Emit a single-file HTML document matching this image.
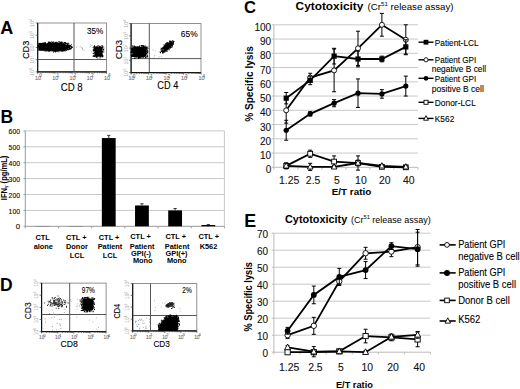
<!DOCTYPE html>
<html><head><meta charset="utf-8"><style>
html,body{margin:0;padding:0;background:#fff;overflow:hidden}
svg{display:block}
text{font-family:"Liberation Sans", sans-serif}
text[font-weight="normal"]{stroke:currentColor;stroke-width:0.1px}
</style></head><body>
<svg width="520" height="389" viewBox="0 0 520 389" font-family='"Liberation Sans", sans-serif'>
<rect width="520" height="389" fill="#fff"/>
<text x="0.30" y="34.20" font-size="18" font-weight="bold" text-anchor="start" fill="#000" color="#000" >A</text>
<text x="0.40" y="123.00" font-size="17.5" font-weight="bold" text-anchor="start" fill="#000" color="#000" >B</text>
<text x="243.90" y="12.50" font-size="16.6" font-weight="bold" text-anchor="start" fill="#000" color="#000" >C</text>
<text x="0.00" y="291.40" font-size="17.5" font-weight="bold" text-anchor="start" fill="#000" color="#000" >D</text>
<text x="244.20" y="227.00" font-size="17.8" font-weight="bold" text-anchor="start" fill="#000" color="#000" >E</text>
<rect x="37.70" y="23.00" width="68.80" height="48.90" fill="none" stroke="#777" stroke-width="0.8" />
<line x1="37.70" y1="23.00" x2="37.70" y2="72.50" stroke="#111" stroke-width="1.2" />
<line x1="37.10" y1="71.90" x2="106.50" y2="71.90" stroke="#111" stroke-width="1.2" />
<line x1="74.00" y1="23.00" x2="74.00" y2="71.90" stroke="#444" stroke-width="0.9" />
<line x1="37.70" y1="59.50" x2="106.50" y2="59.50" stroke="#444" stroke-width="0.9" />
<path d="M42.9 71.9v1.3M45.9 71.9v1.3M48.1 71.9v1.3M49.7 71.9v1.3M51.1 71.9v1.3M52.2 71.9v1.3M53.2 71.9v1.3M54.1 71.9v1.3M60.1 71.9v1.3M63.1 71.9v1.3M65.3 71.9v1.3M66.9 71.9v1.3M68.3 71.9v1.3M69.4 71.9v1.3M70.4 71.9v1.3M71.3 71.9v1.3M77.3 71.9v1.3M80.3 71.9v1.3M82.5 71.9v1.3M84.1 71.9v1.3M85.5 71.9v1.3M86.6 71.9v1.3M87.6 71.9v1.3M88.5 71.9v1.3M94.5 71.9v1.3M97.5 71.9v1.3M99.7 71.9v1.3M101.3 71.9v1.3M102.7 71.9v1.3M103.8 71.9v1.3M104.8 71.9v1.3M105.7 71.9v1.3M37.7 71.9v2M54.9 71.9v2M72.1 71.9v2M89.3 71.9v2M106.5 71.9v2" stroke="#444" stroke-width="0.7" fill="none"/>
<path d="M37.7 71.9h-2M37.7 59.7h-2M37.7 47.5h-2M37.7 35.2h-2M37.7 23.0h-2" stroke="#444" stroke-width="0.7" fill="none"/>
<text x="35.10" y="79.50" font-size="5.4" font-weight="normal" text-anchor="start" fill="#707070" color="#707070" >10</text>
<text x="39.30" y="76.90" font-size="4.59" font-weight="normal" text-anchor="start" fill="#707070" color="#707070" >0</text>
<text x="52.30" y="79.50" font-size="5.4" font-weight="normal" text-anchor="start" fill="#707070" color="#707070" >10</text>
<text x="56.50" y="76.90" font-size="4.59" font-weight="normal" text-anchor="start" fill="#707070" color="#707070" >1</text>
<text x="69.50" y="79.50" font-size="5.4" font-weight="normal" text-anchor="start" fill="#707070" color="#707070" >10</text>
<text x="73.70" y="76.90" font-size="4.59" font-weight="normal" text-anchor="start" fill="#707070" color="#707070" >2</text>
<text x="86.70" y="79.50" font-size="5.4" font-weight="normal" text-anchor="start" fill="#707070" color="#707070" >10</text>
<text x="90.90" y="76.90" font-size="4.59" font-weight="normal" text-anchor="start" fill="#707070" color="#707070" >3</text>
<text x="103.90" y="79.50" font-size="5.4" font-weight="normal" text-anchor="start" fill="#707070" color="#707070" >10</text>
<text x="108.10" y="76.90" font-size="4.59" font-weight="normal" text-anchor="start" fill="#707070" color="#707070" >4</text>
<g transform="translate(34.30,71.90) rotate(-90)"><text x="0" y="0" font-size="5.4" text-anchor="middle" fill="#a8a8a8">10<tspan font-size="3.78" dy="-2">0</tspan></text></g>
<g transform="translate(34.30,59.68) rotate(-90)"><text x="0" y="0" font-size="5.4" text-anchor="middle" fill="#a8a8a8">10<tspan font-size="3.78" dy="-2">1</tspan></text></g>
<g transform="translate(34.30,47.45) rotate(-90)"><text x="0" y="0" font-size="5.4" text-anchor="middle" fill="#a8a8a8">10<tspan font-size="3.78" dy="-2">2</tspan></text></g>
<g transform="translate(34.30,35.23) rotate(-90)"><text x="0" y="0" font-size="5.4" text-anchor="middle" fill="#a8a8a8">10<tspan font-size="3.78" dy="-2">3</tspan></text></g>
<g transform="translate(34.30,23.00) rotate(-90)"><text x="0" y="0" font-size="5.4" text-anchor="middle" fill="#a8a8a8">10<tspan font-size="3.78" dy="-2">4</tspan></text></g>
<ellipse cx="55.00" cy="46.80" rx="13.95" ry="4.09" fill="#000" transform="rotate(0.0 55.00 46.80)"/>
<path fill="#000" d="M48.6 49.7h1.0v1.0h-1.0zM47.1 43.3h1.0v1.0h-1.0zM40.6 45.4h1.0v1.0h-1.0zM68.6 47.9h1.0v1.0h-1.0zM68.7 47.3h1.0v1.0h-1.0zM66.1 47.9h1.0v1.0h-1.0zM39.6 48.5h1.0v1.0h-1.0zM64.1 49.1h1.0v1.0h-1.0zM42.4 42.6h1.0v1.0h-1.0zM41.7 44.3h1.0v1.0h-1.0zM66.9 45.8h1.0v1.0h-1.0zM63.2 43.1h1.0v1.0h-1.0zM62.5 49.3h1.0v1.0h-1.0zM48.5 50.9h1.0v1.0h-1.0zM61.0 50.4h1.0v1.0h-1.0zM45.3 43.1h1.0v1.0h-1.0zM42.4 45.2h1.0v1.0h-1.0zM67.0 47.7h1.0v1.0h-1.0zM48.3 42.4h1.0v1.0h-1.0zM48.4 50.5h1.0v1.0h-1.0zM41.2 47.5h1.0v1.0h-1.0zM58.9 41.8h1.0v1.0h-1.0zM55.1 50.8h1.0v1.0h-1.0zM37.7 45.5h1.0v1.0h-1.0zM52.7 42.3h1.0v1.0h-1.0zM67.3 45.8h1.0v1.0h-1.0zM40.2 48.7h1.0v1.0h-1.0zM63.1 49.9h1.0v1.0h-1.0zM69.9 47.4h1.0v1.0h-1.0zM55.9 41.8h1.0v1.0h-1.0zM64.4 43.4h1.0v1.0h-1.0zM49.3 42.0h1.0v1.0h-1.0zM41.6 44.2h1.0v1.0h-1.0zM63.8 42.0h1.0v1.0h-1.0zM38.8 47.1h1.0v1.0h-1.0zM69.4 48.1h1.0v1.0h-1.0zM43.9 42.2h1.0v1.0h-1.0zM60.5 42.6h1.0v1.0h-1.0zM42.5 49.4h1.0v1.0h-1.0zM69.1 46.9h1.0v1.0h-1.0zM60.9 49.6h1.0v1.0h-1.0zM69.8 48.0h1.0v1.0h-1.0zM63.9 49.2h1.0v1.0h-1.0zM41.3 49.5h1.0v1.0h-1.0zM67.4 48.4h1.0v1.0h-1.0zM38.2 44.8h1.0v1.0h-1.0zM61.7 41.8h1.0v1.0h-1.0zM51.9 50.5h1.0v1.0h-1.0zM43.7 50.2h1.0v1.0h-1.0zM67.2 45.3h1.0v1.0h-1.0zM60.6 49.9h1.0v1.0h-1.0zM56.1 50.7h1.0v1.0h-1.0zM42.9 44.2h1.0v1.0h-1.0zM69.1 46.4h1.0v1.0h-1.0zM44.0 49.6h1.0v1.0h-1.0zM69.8 44.9h1.0v1.0h-1.0zM38.9 45.9h1.0v1.0h-1.0zM48.9 43.0h1.0v1.0h-1.0zM67.8 43.4h1.0v1.0h-1.0zM66.2 42.8h1.0v1.0h-1.0zM43.2 49.0h1.0v1.0h-1.0zM67.0 49.1h1.0v1.0h-1.0zM66.2 47.7h1.0v1.0h-1.0zM57.9 50.0h1.0v1.0h-1.0zM47.8 49.4h1.0v1.0h-1.0zM67.6 46.3h1.0v1.0h-1.0zM66.0 48.8h1.0v1.0h-1.0zM71.3 47.1h1.0v1.0h-1.0zM44.6 43.8h1.0v1.0h-1.0zM54.3 50.5h1.0v1.0h-1.0zM46.0 49.2h1.0v1.0h-1.0zM64.8 42.1h1.0v1.0h-1.0zM39.9 47.2h1.0v1.0h-1.0zM65.5 48.2h1.0v1.0h-1.0zM47.0 49.7h1.0v1.0h-1.0zM60.8 42.9h1.0v1.0h-1.0zM71.8 47.0h1.0v1.0h-1.0zM41.6 45.6h1.0v1.0h-1.0zM42.5 45.3h1.0v1.0h-1.0zM37.2 45.4h1.0v1.0h-1.0zM65.0 42.7h1.0v1.0h-1.0zM53.5 50.5h1.0v1.0h-1.0zM62.7 50.5h1.0v1.0h-1.0zM38.3 45.3h1.0v1.0h-1.0zM48.0 49.8h1.0v1.0h-1.0zM61.1 41.5h1.0v1.0h-1.0zM64.5 42.4h1.0v1.0h-1.0zM61.3 42.0h1.0v1.0h-1.0zM56.7 50.7h1.0v1.0h-1.0zM46.8 49.2h1.0v1.0h-1.0zM68.1 47.0h1.0v1.0h-1.0zM53.6 51.0h1.0v1.0h-1.0zM68.7 45.1h1.0v1.0h-1.0zM70.8 44.3h1.0v1.0h-1.0zM68.2 45.1h1.0v1.0h-1.0zM57.0 50.2h1.0v1.0h-1.0zM58.9 50.0h1.0v1.0h-1.0zM42.3 42.8h1.0v1.0h-1.0zM62.5 42.6h1.0v1.0h-1.0zM45.0 42.3h1.0v1.0h-1.0zM68.2 48.7h1.0v1.0h-1.0zM68.4 43.7h1.0v1.0h-1.0zM54.5 41.9h1.0v1.0h-1.0zM61.7 50.7h1.0v1.0h-1.0zM46.3 50.5h1.0v1.0h-1.0zM68.7 45.5h1.0v1.0h-1.0zM40.3 49.3h1.0v1.0h-1.0zM52.4 42.5h1.0v1.0h-1.0zM63.7 49.1h1.0v1.0h-1.0zM68.3 43.6h1.0v1.0h-1.0zM64.7 50.2h1.0v1.0h-1.0zM70.2 45.7h1.0v1.0h-1.0zM45.5 49.9h1.0v1.0h-1.0zM62.9 49.0h1.0v1.0h-1.0zM70.0 45.5h1.0v1.0h-1.0zM37.4 45.5h1.0v1.0h-1.0zM38.9 48.3h1.0v1.0h-1.0zM60.7 42.8h1.0v1.0h-1.0zM54.3 50.4h1.0v1.0h-1.0zM55.4 50.8h1.0v1.0h-1.0zM53.6 50.6h1.0v1.0h-1.0zM66.2 50.0h1.0v1.0h-1.0zM45.5 49.7h1.0v1.0h-1.0zM39.6 43.8h1.0v1.0h-1.0zM39.3 48.7h1.0v1.0h-1.0zM39.3 46.3h1.0v1.0h-1.0zM42.2 45.8h1.0v1.0h-1.0zM42.1 47.7h1.0v1.0h-1.0zM71.1 46.4h1.0v1.0h-1.0zM61.5 50.1h1.0v1.0h-1.0zM52.1 41.9h1.0v1.0h-1.0zM47.6 50.2h1.0v1.0h-1.0zM39.0 44.6h1.0v1.0h-1.0zM66.5 49.1h1.0v1.0h-1.0zM54.6 50.3h1.0v1.0h-1.0zM56.6 41.9h1.0v1.0h-1.0zM39.3 44.5h1.0v1.0h-1.0zM67.0 44.0h1.0v1.0h-1.0zM43.1 43.4h1.0v1.0h-1.0zM38.5 45.9h1.0v1.0h-1.0zM40.0 47.6h1.0v1.0h-1.0zM37.3 47.0h1.0v1.0h-1.0zM49.2 41.6h1.0v1.0h-1.0zM67.3 44.9h1.0v1.0h-1.0zM38.3 44.4h1.0v1.0h-1.0zM61.5 43.1h1.0v1.0h-1.0zM65.1 49.3h1.0v1.0h-1.0zM66.7 48.1h1.0v1.0h-1.0zM68.8 48.4h1.0v1.0h-1.0zM58.1 41.4h1.0v1.0h-1.0zM63.6 50.2h1.0v1.0h-1.0zM47.5 43.1h1.0v1.0h-1.0zM67.5 42.8h1.0v1.0h-1.0zM57.8 51.3h1.0v1.0h-1.0zM42.5 48.9h1.0v1.0h-1.0zM71.3 46.0h1.0v1.0h-1.0zM62.2 49.9h1.0v1.0h-1.0zM40.4 45.9h1.0v1.0h-1.0zM59.2 50.2h1.0v1.0h-1.0zM52.3 42.7h1.0v1.0h-1.0zM40.7 44.9h1.0v1.0h-1.0zM68.5 46.8h1.0v1.0h-1.0zM43.8 43.2h1.0v1.0h-1.0zM70.7 48.3h1.0v1.0h-1.0zM58.7 41.3h1.0v1.0h-1.0zM65.4 48.8h1.0v1.0h-1.0zM70.5 47.5h1.0v1.0h-1.0zM52.8 50.1h1.0v1.0h-1.0zM39.3 48.7h1.0v1.0h-1.0zM60.3 42.7h1.0v1.0h-1.0zM64.7 50.4h1.0v1.0h-1.0zM40.0 44.3h1.0v1.0h-1.0zM65.2 48.3h1.0v1.0h-1.0zM49.0 42.3h1.0v1.0h-1.0zM70.1 48.5h1.0v1.0h-1.0zM43.5 42.7h1.0v1.0h-1.0zM69.1 48.8h1.0v1.0h-1.0zM70.0 48.3h1.0v1.0h-1.0zM41.0 47.5h1.0v1.0h-1.0zM38.1 44.6h1.0v1.0h-1.0zM53.0 50.1h1.0v1.0h-1.0zM41.1 45.6h1.0v1.0h-1.0zM64.7 48.8h1.0v1.0h-1.0zM67.2 47.5h1.0v1.0h-1.0zM49.2 50.1h1.0v1.0h-1.0zM55.3 42.2h1.0v1.0h-1.0zM41.2 46.3h1.0v1.0h-1.0zM47.4 49.3h1.0v1.0h-1.0zM54.5 49.9h1.0v1.0h-1.0zM52.9 41.8h1.0v1.0h-1.0zM60.0 50.3h1.0v1.0h-1.0zM66.3 44.8h1.0v1.0h-1.0zM60.6 42.4h1.0v1.0h-1.0zM37.7 46.5h1.0v1.0h-1.0zM42.7 49.0h1.0v1.0h-1.0zM47.8 41.5h1.0v1.0h-1.0zM45.3 50.4h1.0v1.0h-1.0zM50.3 41.9h1.0v1.0h-1.0zM42.8 48.6h1.0v1.0h-1.0zM66.7 47.6h1.0v1.0h-1.0zM69.2 48.4h1.0v1.0h-1.0zM54.0 50.2h1.0v1.0h-1.0zM69.0 48.8h1.0v1.0h-1.0zM65.4 42.9h1.0v1.0h-1.0zM51.8 50.2h1.0v1.0h-1.0zM50.5 50.5h1.0v1.0h-1.0zM62.6 49.9h1.0v1.0h-1.0zM53.0 51.4h1.0v1.0h-1.0zM69.5 45.5h1.0v1.0h-1.0zM55.1 51.4h1.0v1.0h-1.0zM49.3 50.2h1.0v1.0h-1.0zM68.9 46.3h1.0v1.0h-1.0zM39.7 47.0h1.0v1.0h-1.0zM59.1 50.5h1.0v1.0h-1.0zM68.2 46.4h1.0v1.0h-1.0zM66.7 48.6h1.0v1.0h-1.0zM66.5 47.2h1.0v1.0h-1.0zM50.0 50.0h1.0v1.0h-1.0zM41.5 44.0h1.0v1.0h-1.0zM54.6 41.7h1.0v1.0h-1.0zM50.9 41.4h1.0v1.0h-1.0zM43.7 48.9h1.0v1.0h-1.0zM67.5 45.9h1.0v1.0h-1.0zM51.9 41.7h1.0v1.0h-1.0zM70.7 47.6h1.0v1.0h-1.0zM66.7 43.4h1.0v1.0h-1.0zM52.8 41.4h1.0v1.0h-1.0zM64.2 49.7h1.0v1.0h-1.0zM37.7 46.2h1.0v1.0h-1.0zM60.1 41.7h1.0v1.0h-1.0zM39.7 43.8h1.0v1.0h-1.0zM47.9 42.0h1.0v1.0h-1.0zM56.1 49.9h1.0v1.0h-1.0zM64.0 49.4h1.0v1.0h-1.0zM67.8 49.3h1.0v1.0h-1.0zM39.9 44.6h1.0v1.0h-1.0zM43.3 43.0h1.0v1.0h-1.0zM42.2 46.5h1.0v1.0h-1.0zM59.3 41.7h1.0v1.0h-1.0zM39.3 46.2h1.0v1.0h-1.0z"/>
<rect x="38.3" y="42.9" width="8" height="7.8" fill="#000"/>
<rect x="94.40" y="46.60" width="8.20" height="10.20" rx="2.5" fill="#000"/>
<path fill="#000" d="M96.2 55.7h1.0v1.0h-1.0zM94.2 55.8h1.0v1.0h-1.0zM96.6 46.3h1.0v1.0h-1.0zM94.3 56.1h1.0v1.0h-1.0zM92.7 55.7h1.0v1.0h-1.0zM102.1 56.1h1.0v1.0h-1.0zM102.7 55.5h1.0v1.0h-1.0zM93.4 54.7h1.0v1.0h-1.0zM96.8 55.7h1.0v1.0h-1.0zM99.3 46.4h1.0v1.0h-1.0zM94.0 55.5h1.0v1.0h-1.0zM99.6 55.5h1.0v1.0h-1.0zM96.1 46.3h1.0v1.0h-1.0zM95.8 57.0h1.0v1.0h-1.0zM95.6 56.1h1.0v1.0h-1.0zM101.5 56.5h1.0v1.0h-1.0zM101.6 55.1h1.0v1.0h-1.0zM94.3 50.0h1.0v1.0h-1.0zM92.7 46.9h1.0v1.0h-1.0zM94.5 45.9h1.0v1.0h-1.0zM92.7 52.7h1.0v1.0h-1.0zM101.9 54.4h1.0v1.0h-1.0zM101.6 44.9h1.0v1.0h-1.0zM101.7 45.7h1.0v1.0h-1.0zM99.1 45.8h1.0v1.0h-1.0zM94.4 47.8h1.0v1.0h-1.0zM93.6 52.7h1.0v1.0h-1.0zM93.2 50.3h1.0v1.0h-1.0zM103.2 46.4h1.0v1.0h-1.0zM101.4 55.8h1.0v1.0h-1.0zM94.0 45.9h1.0v1.0h-1.0zM101.9 54.5h1.0v1.0h-1.0zM99.1 46.2h1.0v1.0h-1.0zM103.1 49.5h1.0v1.0h-1.0zM94.0 45.3h1.0v1.0h-1.0zM94.4 52.0h1.0v1.0h-1.0zM93.2 48.8h1.0v1.0h-1.0zM94.1 49.7h1.0v1.0h-1.0zM102.1 51.6h1.0v1.0h-1.0zM93.5 46.1h1.0v1.0h-1.0zM102.2 51.2h1.0v1.0h-1.0zM101.4 48.0h1.0v1.0h-1.0zM97.6 45.1h1.0v1.0h-1.0zM103.3 48.4h1.0v1.0h-1.0zM101.9 47.1h1.0v1.0h-1.0zM101.7 55.9h1.0v1.0h-1.0zM103.3 51.6h1.0v1.0h-1.0zM93.0 50.4h1.0v1.0h-1.0zM97.3 57.4h1.0v1.0h-1.0zM93.5 48.3h1.0v1.0h-1.0zM94.0 55.6h1.0v1.0h-1.0zM93.7 55.9h1.0v1.0h-1.0zM93.3 55.2h1.0v1.0h-1.0zM101.4 48.4h1.0v1.0h-1.0zM94.4 48.8h1.0v1.0h-1.0zM102.0 55.3h1.0v1.0h-1.0zM102.9 48.9h1.0v1.0h-1.0zM94.1 47.0h1.0v1.0h-1.0zM96.4 56.1h1.0v1.0h-1.0zM100.0 56.3h1.0v1.0h-1.0zM100.1 46.5h1.0v1.0h-1.0zM101.5 45.0h1.0v1.0h-1.0zM101.8 56.2h1.0v1.0h-1.0zM92.6 49.5h1.0v1.0h-1.0zM101.6 54.5h1.0v1.0h-1.0zM101.0 46.7h1.0v1.0h-1.0zM101.5 50.5h1.0v1.0h-1.0zM101.9 46.7h1.0v1.0h-1.0zM99.5 57.4h1.0v1.0h-1.0zM93.8 55.3h1.0v1.0h-1.0z"/>
<path fill="#aaa" d="M82.0 48.7h1.0v1.0h-1.0zM81.4 47.0h1.0v1.0h-1.0zM76.1 46.5h1.0v1.0h-1.0zM91.5 45.1h1.0v1.0h-1.0zM83.6 49.7h1.0v1.0h-1.0zM89.7 45.9h1.0v1.0h-1.0zM79.6 46.2h1.0v1.0h-1.0zM81.8 48.0h1.0v1.0h-1.0zM91.2 51.6h1.0v1.0h-1.0zM89.8 44.2h1.0v1.0h-1.0z"/>
<text x="86.90" y="34.20" font-size="8.6" font-weight="normal" text-anchor="start" fill="#000" color="#000" textLength="16.2" lengthAdjust="spacingAndGlyphs" >35%</text>
<g transform="translate(28.50,49.90) rotate(-90)"><text x="0" y="0" font-size="9.3" font-weight="normal" text-anchor="middle" fill="#000" textLength="18.2" lengthAdjust="spacingAndGlyphs">CD3</text></g>
<text x="60.70" y="90.50" font-size="10.6" font-weight="normal" text-anchor="start" fill="#000" color="#000" textLength="22.0" lengthAdjust="spacingAndGlyphs" >CD 8</text>
<rect x="131.10" y="23.60" width="69.90" height="49.00" fill="none" stroke="#777" stroke-width="0.8" />
<line x1="131.10" y1="23.60" x2="131.10" y2="73.20" stroke="#111" stroke-width="1.2" />
<line x1="130.50" y1="72.60" x2="201.00" y2="72.60" stroke="#111" stroke-width="1.2" />
<line x1="149.30" y1="23.60" x2="149.30" y2="72.60" stroke="#444" stroke-width="0.9" />
<line x1="131.10" y1="58.60" x2="201.00" y2="58.60" stroke="#444" stroke-width="0.9" />
<path d="M136.4 72.6v1.3M139.4 72.6v1.3M141.6 72.6v1.3M143.3 72.6v1.3M144.7 72.6v1.3M145.9 72.6v1.3M146.9 72.6v1.3M147.8 72.6v1.3M153.8 72.6v1.3M156.9 72.6v1.3M159.1 72.6v1.3M160.8 72.6v1.3M162.2 72.6v1.3M163.3 72.6v1.3M164.4 72.6v1.3M165.3 72.6v1.3M171.3 72.6v1.3M174.4 72.6v1.3M176.6 72.6v1.3M178.3 72.6v1.3M179.6 72.6v1.3M180.8 72.6v1.3M181.8 72.6v1.3M182.7 72.6v1.3M188.8 72.6v1.3M191.9 72.6v1.3M194.0 72.6v1.3M195.7 72.6v1.3M197.1 72.6v1.3M198.3 72.6v1.3M199.3 72.6v1.3M200.2 72.6v1.3M131.1 72.6v2M148.6 72.6v2M166.1 72.6v2M183.5 72.6v2M201.0 72.6v2" stroke="#444" stroke-width="0.7" fill="none"/>
<path d="M131.1 72.6h-2M131.1 60.3h-2M131.1 48.1h-2M131.1 35.9h-2M131.1 23.6h-2" stroke="#444" stroke-width="0.7" fill="none"/>
<text x="128.50" y="80.20" font-size="5.4" font-weight="normal" text-anchor="start" fill="#707070" color="#707070" >10</text>
<text x="132.70" y="77.60" font-size="4.59" font-weight="normal" text-anchor="start" fill="#707070" color="#707070" >0</text>
<text x="145.97" y="80.20" font-size="5.4" font-weight="normal" text-anchor="start" fill="#707070" color="#707070" >10</text>
<text x="150.17" y="77.60" font-size="4.59" font-weight="normal" text-anchor="start" fill="#707070" color="#707070" >1</text>
<text x="163.45" y="80.20" font-size="5.4" font-weight="normal" text-anchor="start" fill="#707070" color="#707070" >10</text>
<text x="167.65" y="77.60" font-size="4.59" font-weight="normal" text-anchor="start" fill="#707070" color="#707070" >2</text>
<text x="180.93" y="80.20" font-size="5.4" font-weight="normal" text-anchor="start" fill="#707070" color="#707070" >10</text>
<text x="185.12" y="77.60" font-size="4.59" font-weight="normal" text-anchor="start" fill="#707070" color="#707070" >3</text>
<text x="198.40" y="80.20" font-size="5.4" font-weight="normal" text-anchor="start" fill="#707070" color="#707070" >10</text>
<text x="202.60" y="77.60" font-size="4.59" font-weight="normal" text-anchor="start" fill="#707070" color="#707070" >4</text>
<g transform="translate(127.70,72.60) rotate(-90)"><text x="0" y="0" font-size="5.4" text-anchor="middle" fill="#a8a8a8">10<tspan font-size="3.78" dy="-2">0</tspan></text></g>
<g transform="translate(127.70,60.35) rotate(-90)"><text x="0" y="0" font-size="5.4" text-anchor="middle" fill="#a8a8a8">10<tspan font-size="3.78" dy="-2">1</tspan></text></g>
<g transform="translate(127.70,48.10) rotate(-90)"><text x="0" y="0" font-size="5.4" text-anchor="middle" fill="#a8a8a8">10<tspan font-size="3.78" dy="-2">2</tspan></text></g>
<g transform="translate(127.70,35.85) rotate(-90)"><text x="0" y="0" font-size="5.4" text-anchor="middle" fill="#a8a8a8">10<tspan font-size="3.78" dy="-2">3</tspan></text></g>
<g transform="translate(127.70,23.60) rotate(-90)"><text x="0" y="0" font-size="5.4" text-anchor="middle" fill="#a8a8a8">10<tspan font-size="3.78" dy="-2">4</tspan></text></g>
<rect x="132.30" y="46.80" width="14.30" height="10.40" rx="3.5" fill="#000"/>
<path fill="#000" d="M133.4 45.6h1.0v1.0h-1.0zM131.6 51.5h1.0v1.0h-1.0zM141.8 55.9h1.0v1.0h-1.0zM147.2 51.3h1.0v1.0h-1.0zM130.8 54.9h1.0v1.0h-1.0zM132.1 47.7h1.0v1.0h-1.0zM137.2 46.8h1.0v1.0h-1.0zM145.0 57.3h1.0v1.0h-1.0zM131.1 49.2h1.0v1.0h-1.0zM138.8 57.5h1.0v1.0h-1.0zM146.5 54.6h1.0v1.0h-1.0zM133.8 45.5h1.0v1.0h-1.0zM143.3 45.2h1.0v1.0h-1.0zM138.9 56.6h1.0v1.0h-1.0zM138.1 46.6h1.0v1.0h-1.0zM139.4 57.4h1.0v1.0h-1.0zM137.3 46.9h1.0v1.0h-1.0zM144.9 57.1h1.0v1.0h-1.0zM145.8 51.2h1.0v1.0h-1.0zM141.1 55.9h1.0v1.0h-1.0zM146.3 46.9h1.0v1.0h-1.0zM131.2 48.3h1.0v1.0h-1.0zM131.6 52.0h1.0v1.0h-1.0zM143.4 46.6h1.0v1.0h-1.0zM131.1 48.2h1.0v1.0h-1.0zM145.4 47.2h1.0v1.0h-1.0zM146.7 56.6h1.0v1.0h-1.0zM145.9 52.7h1.0v1.0h-1.0zM137.8 57.8h1.0v1.0h-1.0zM143.0 47.0h1.0v1.0h-1.0zM146.2 48.7h1.0v1.0h-1.0zM137.1 56.3h1.0v1.0h-1.0zM131.0 56.3h1.0v1.0h-1.0zM145.9 56.3h1.0v1.0h-1.0zM131.9 47.8h1.0v1.0h-1.0zM132.1 55.2h1.0v1.0h-1.0zM142.7 45.5h1.0v1.0h-1.0zM147.3 46.6h1.0v1.0h-1.0zM145.7 56.5h1.0v1.0h-1.0zM142.8 46.2h1.0v1.0h-1.0zM137.9 57.9h1.0v1.0h-1.0zM139.0 46.3h1.0v1.0h-1.0zM142.3 45.1h1.0v1.0h-1.0zM138.8 47.0h1.0v1.0h-1.0zM134.8 46.3h1.0v1.0h-1.0zM130.7 51.3h1.0v1.0h-1.0zM134.6 58.0h1.0v1.0h-1.0zM131.9 49.7h1.0v1.0h-1.0zM141.0 45.1h1.0v1.0h-1.0zM133.9 56.0h1.0v1.0h-1.0zM138.0 56.7h1.0v1.0h-1.0zM146.0 50.5h1.0v1.0h-1.0zM140.2 47.1h1.0v1.0h-1.0zM145.6 46.3h1.0v1.0h-1.0zM132.3 48.5h1.0v1.0h-1.0zM132.1 48.1h1.0v1.0h-1.0zM147.0 49.6h1.0v1.0h-1.0zM131.7 55.1h1.0v1.0h-1.0zM134.2 46.1h1.0v1.0h-1.0zM147.2 50.4h1.0v1.0h-1.0zM141.3 46.3h1.0v1.0h-1.0zM132.5 51.4h1.0v1.0h-1.0zM147.0 52.3h1.0v1.0h-1.0zM132.9 56.0h1.0v1.0h-1.0zM133.5 46.9h1.0v1.0h-1.0zM132.0 50.2h1.0v1.0h-1.0zM133.9 57.8h1.0v1.0h-1.0zM145.9 48.8h1.0v1.0h-1.0zM131.3 48.4h1.0v1.0h-1.0zM144.8 45.6h1.0v1.0h-1.0zM145.9 47.6h1.0v1.0h-1.0zM132.0 45.5h1.0v1.0h-1.0zM131.3 50.4h1.0v1.0h-1.0zM132.5 49.1h1.0v1.0h-1.0zM143.4 46.1h1.0v1.0h-1.0zM130.6 48.4h1.0v1.0h-1.0zM145.8 51.1h1.0v1.0h-1.0zM146.3 53.2h1.0v1.0h-1.0zM132.2 49.9h1.0v1.0h-1.0zM131.0 56.1h1.0v1.0h-1.0zM131.0 55.1h1.0v1.0h-1.0zM140.8 56.6h1.0v1.0h-1.0zM146.1 47.8h1.0v1.0h-1.0zM132.2 56.1h1.0v1.0h-1.0zM141.5 45.5h1.0v1.0h-1.0zM144.0 46.9h1.0v1.0h-1.0zM133.5 45.9h1.0v1.0h-1.0zM147.4 48.1h1.0v1.0h-1.0zM130.5 52.1h1.0v1.0h-1.0zM144.9 46.9h1.0v1.0h-1.0zM136.6 46.0h1.0v1.0h-1.0zM135.7 56.8h1.0v1.0h-1.0zM143.4 46.2h1.0v1.0h-1.0zM140.2 57.3h1.0v1.0h-1.0zM133.8 57.7h1.0v1.0h-1.0zM138.0 56.2h1.0v1.0h-1.0zM132.0 54.2h1.0v1.0h-1.0zM142.8 56.7h1.0v1.0h-1.0zM134.3 56.3h1.0v1.0h-1.0zM144.0 46.6h1.0v1.0h-1.0zM139.4 45.2h1.0v1.0h-1.0zM142.2 56.6h1.0v1.0h-1.0zM147.4 51.6h1.0v1.0h-1.0zM145.7 56.4h1.0v1.0h-1.0zM131.2 55.8h1.0v1.0h-1.0zM132.4 46.7h1.0v1.0h-1.0zM147.0 55.5h1.0v1.0h-1.0zM130.7 54.2h1.0v1.0h-1.0zM133.8 46.5h1.0v1.0h-1.0zM137.7 46.7h1.0v1.0h-1.0z"/>
<ellipse cx="167.20" cy="46.90" rx="7.07" ry="2.88" fill="#000" transform="rotate(-40.0 167.20 46.90)"/>
<path fill="#000" d="M172.3 41.0h1.0v1.0h-1.0zM170.9 41.2h1.0v1.0h-1.0zM169.1 41.5h1.0v1.0h-1.0zM168.5 49.3h1.0v1.0h-1.0zM170.8 41.8h1.0v1.0h-1.0zM160.5 49.2h1.0v1.0h-1.0zM169.7 47.7h1.0v1.0h-1.0zM171.4 45.3h1.0v1.0h-1.0zM168.6 49.0h1.0v1.0h-1.0zM162.2 47.2h1.0v1.0h-1.0zM172.3 42.0h1.0v1.0h-1.0zM162.9 46.4h1.0v1.0h-1.0zM166.4 50.0h1.0v1.0h-1.0zM166.4 42.7h1.0v1.0h-1.0zM172.0 43.3h1.0v1.0h-1.0zM163.3 51.8h1.0v1.0h-1.0zM162.2 47.5h1.0v1.0h-1.0zM171.7 45.9h1.0v1.0h-1.0zM163.2 51.4h1.0v1.0h-1.0zM166.5 51.0h1.0v1.0h-1.0zM166.3 50.6h1.0v1.0h-1.0zM164.7 51.2h1.0v1.0h-1.0zM169.4 40.5h1.0v1.0h-1.0zM164.6 50.9h1.0v1.0h-1.0zM164.2 44.9h1.0v1.0h-1.0zM173.4 40.9h1.0v1.0h-1.0zM162.0 52.5h1.0v1.0h-1.0zM162.5 52.5h1.0v1.0h-1.0zM162.2 51.1h1.0v1.0h-1.0zM172.8 41.7h1.0v1.0h-1.0zM160.7 47.8h1.0v1.0h-1.0zM173.0 43.4h1.0v1.0h-1.0zM164.1 51.5h1.0v1.0h-1.0zM171.4 45.4h1.0v1.0h-1.0zM159.7 51.6h1.0v1.0h-1.0zM172.5 44.1h1.0v1.0h-1.0zM166.8 41.9h1.0v1.0h-1.0zM170.0 47.0h1.0v1.0h-1.0zM172.3 40.1h1.0v1.0h-1.0zM162.0 50.7h1.0v1.0h-1.0zM170.8 41.2h1.0v1.0h-1.0zM170.5 40.8h1.0v1.0h-1.0zM167.4 42.6h1.0v1.0h-1.0zM166.1 43.3h1.0v1.0h-1.0zM162.6 52.4h1.0v1.0h-1.0zM167.6 42.5h1.0v1.0h-1.0zM169.7 47.7h1.0v1.0h-1.0zM160.9 50.8h1.0v1.0h-1.0zM171.8 44.7h1.0v1.0h-1.0zM163.4 44.6h1.0v1.0h-1.0zM173.0 42.2h1.0v1.0h-1.0zM165.3 44.2h1.0v1.0h-1.0zM167.9 42.4h1.0v1.0h-1.0zM160.7 49.0h1.0v1.0h-1.0zM161.6 48.0h1.0v1.0h-1.0zM162.4 52.0h1.0v1.0h-1.0zM162.2 52.1h1.0v1.0h-1.0zM162.0 51.7h1.0v1.0h-1.0zM173.0 41.7h1.0v1.0h-1.0zM161.6 51.0h1.0v1.0h-1.0zM165.1 43.3h1.0v1.0h-1.0zM162.2 51.1h1.0v1.0h-1.0zM162.1 50.9h1.0v1.0h-1.0zM172.0 44.8h1.0v1.0h-1.0zM172.5 43.7h1.0v1.0h-1.0zM161.7 50.3h1.0v1.0h-1.0zM162.2 47.6h1.0v1.0h-1.0zM163.9 44.4h1.0v1.0h-1.0zM161.7 50.3h1.0v1.0h-1.0zM161.1 51.0h1.0v1.0h-1.0zM171.0 41.7h1.0v1.0h-1.0zM169.1 40.6h1.0v1.0h-1.0zM163.8 44.4h1.0v1.0h-1.0zM171.3 47.0h1.0v1.0h-1.0zM160.0 52.2h1.0v1.0h-1.0zM170.2 41.6h1.0v1.0h-1.0zM166.1 42.4h1.0v1.0h-1.0zM172.5 43.1h1.0v1.0h-1.0zM165.2 44.2h1.0v1.0h-1.0zM169.9 41.5h1.0v1.0h-1.0z"/>
<path fill="#bbb" d="M162.6 49.3h1.0v1.0h-1.0zM158.5 56.3h1.0v1.0h-1.0zM154.7 50.4h1.0v1.0h-1.0zM158.6 50.9h1.0v1.0h-1.0zM152.5 49.6h1.0v1.0h-1.0zM154.1 56.4h1.0v1.0h-1.0zM160.8 56.1h1.0v1.0h-1.0zM154.2 55.1h1.0v1.0h-1.0z"/>
<text x="180.80" y="36.80" font-size="8.6" font-weight="normal" text-anchor="start" fill="#000" color="#000" textLength="16.8" lengthAdjust="spacingAndGlyphs" >65%</text>
<g transform="translate(122.20,49.50) rotate(-90)"><text x="0" y="0" font-size="9.3" font-weight="normal" text-anchor="middle" fill="#000" textLength="19.5" lengthAdjust="spacingAndGlyphs">CD3</text></g>
<text x="157.30" y="88.90" font-size="10.6" font-weight="normal" text-anchor="start" fill="#000" color="#000" textLength="21.0" lengthAdjust="spacingAndGlyphs" >CD 4</text>
<rect x="41.60" y="283.10" width="64.50" height="48.50" fill="none" stroke="#777" stroke-width="0.8" />
<line x1="41.60" y1="283.10" x2="41.60" y2="332.20" stroke="#111" stroke-width="1.2" />
<line x1="41.00" y1="331.60" x2="106.10" y2="331.60" stroke="#111" stroke-width="1.2" />
<line x1="69.70" y1="283.10" x2="69.70" y2="331.60" stroke="#444" stroke-width="0.9" />
<line x1="41.60" y1="314.50" x2="106.10" y2="314.50" stroke="#444" stroke-width="0.9" />
<path d="M46.5 331.6v1.3M49.3 331.6v1.3M51.3 331.6v1.3M52.9 331.6v1.3M54.1 331.6v1.3M55.2 331.6v1.3M56.2 331.6v1.3M57.0 331.6v1.3M62.6 331.6v1.3M65.4 331.6v1.3M67.4 331.6v1.3M69.0 331.6v1.3M70.3 331.6v1.3M71.4 331.6v1.3M72.3 331.6v1.3M73.1 331.6v1.3M78.7 331.6v1.3M81.5 331.6v1.3M83.6 331.6v1.3M85.1 331.6v1.3M86.4 331.6v1.3M87.5 331.6v1.3M88.4 331.6v1.3M89.2 331.6v1.3M94.8 331.6v1.3M97.7 331.6v1.3M99.7 331.6v1.3M101.2 331.6v1.3M102.5 331.6v1.3M103.6 331.6v1.3M104.5 331.6v1.3M105.4 331.6v1.3M41.6 331.6v2M57.7 331.6v2M73.8 331.6v2M90.0 331.6v2M106.1 331.6v2" stroke="#444" stroke-width="0.7" fill="none"/>
<path d="M41.6 331.6h-2M41.6 319.5h-2M41.6 307.4h-2M41.6 295.2h-2M41.6 283.1h-2" stroke="#444" stroke-width="0.7" fill="none"/>
<text x="39.00" y="339.20" font-size="4.8" font-weight="normal" text-anchor="start" fill="#707070" color="#707070" >10</text>
<text x="43.20" y="336.60" font-size="4.08" font-weight="normal" text-anchor="start" fill="#707070" color="#707070" >0</text>
<text x="55.12" y="339.20" font-size="4.8" font-weight="normal" text-anchor="start" fill="#707070" color="#707070" >10</text>
<text x="59.33" y="336.60" font-size="4.08" font-weight="normal" text-anchor="start" fill="#707070" color="#707070" >1</text>
<text x="71.25" y="339.20" font-size="4.8" font-weight="normal" text-anchor="start" fill="#707070" color="#707070" >10</text>
<text x="75.45" y="336.60" font-size="4.08" font-weight="normal" text-anchor="start" fill="#707070" color="#707070" >2</text>
<text x="87.38" y="339.20" font-size="4.8" font-weight="normal" text-anchor="start" fill="#707070" color="#707070" >10</text>
<text x="91.57" y="336.60" font-size="4.08" font-weight="normal" text-anchor="start" fill="#707070" color="#707070" >3</text>
<text x="103.50" y="339.20" font-size="4.8" font-weight="normal" text-anchor="start" fill="#707070" color="#707070" >10</text>
<text x="107.70" y="336.60" font-size="4.08" font-weight="normal" text-anchor="start" fill="#707070" color="#707070" >4</text>
<g transform="translate(38.20,331.60) rotate(-90)"><text x="0" y="0" font-size="4.8" text-anchor="middle" fill="#a8a8a8">10<tspan font-size="3.36" dy="-2">0</tspan></text></g>
<g transform="translate(38.20,319.48) rotate(-90)"><text x="0" y="0" font-size="4.8" text-anchor="middle" fill="#a8a8a8">10<tspan font-size="3.36" dy="-2">1</tspan></text></g>
<g transform="translate(38.20,307.35) rotate(-90)"><text x="0" y="0" font-size="4.8" text-anchor="middle" fill="#a8a8a8">10<tspan font-size="3.36" dy="-2">2</tspan></text></g>
<g transform="translate(38.20,295.23) rotate(-90)"><text x="0" y="0" font-size="4.8" text-anchor="middle" fill="#a8a8a8">10<tspan font-size="3.36" dy="-2">3</tspan></text></g>
<g transform="translate(38.20,283.10) rotate(-90)"><text x="0" y="0" font-size="4.8" text-anchor="middle" fill="#a8a8a8">10<tspan font-size="3.36" dy="-2">4</tspan></text></g>
<rect x="82.40" y="298.40" width="11.20" height="12.40" rx="3.2" fill="#000"/>
<path fill="#000" d="M87.3 297.6h1.0v1.0h-1.0zM86.7 310.3h1.0v1.0h-1.0zM81.6 303.9h1.0v1.0h-1.0zM89.3 311.3h1.0v1.0h-1.0zM86.8 296.7h1.0v1.0h-1.0zM87.0 310.3h1.0v1.0h-1.0zM82.1 307.4h1.0v1.0h-1.0zM81.5 298.3h1.0v1.0h-1.0zM93.8 303.7h1.0v1.0h-1.0zM92.7 307.6h1.0v1.0h-1.0zM82.5 310.0h1.0v1.0h-1.0zM82.1 306.4h1.0v1.0h-1.0zM86.5 311.5h1.0v1.0h-1.0zM89.0 310.9h1.0v1.0h-1.0zM92.4 301.5h1.0v1.0h-1.0zM83.5 298.3h1.0v1.0h-1.0zM87.6 310.4h1.0v1.0h-1.0zM92.5 311.3h1.0v1.0h-1.0zM88.1 298.2h1.0v1.0h-1.0zM85.9 309.6h1.0v1.0h-1.0zM82.0 297.9h1.0v1.0h-1.0zM86.9 297.9h1.0v1.0h-1.0zM92.5 297.5h1.0v1.0h-1.0zM88.9 310.0h1.0v1.0h-1.0zM87.3 310.5h1.0v1.0h-1.0zM88.3 296.8h1.0v1.0h-1.0zM92.7 298.2h1.0v1.0h-1.0zM86.4 297.4h1.0v1.0h-1.0zM81.1 304.0h1.0v1.0h-1.0zM92.9 305.7h1.0v1.0h-1.0zM82.4 297.4h1.0v1.0h-1.0zM90.2 310.3h1.0v1.0h-1.0zM86.2 310.4h1.0v1.0h-1.0zM81.2 300.9h1.0v1.0h-1.0zM94.1 298.4h1.0v1.0h-1.0zM84.0 297.6h1.0v1.0h-1.0zM92.8 305.9h1.0v1.0h-1.0zM84.7 297.1h1.0v1.0h-1.0zM82.5 297.6h1.0v1.0h-1.0zM82.3 300.7h1.0v1.0h-1.0zM91.3 297.5h1.0v1.0h-1.0zM92.8 310.8h1.0v1.0h-1.0zM82.3 306.7h1.0v1.0h-1.0zM93.0 301.3h1.0v1.0h-1.0zM84.2 296.9h1.0v1.0h-1.0zM81.2 308.1h1.0v1.0h-1.0zM82.2 297.0h1.0v1.0h-1.0zM81.7 309.9h1.0v1.0h-1.0zM81.8 310.1h1.0v1.0h-1.0zM92.6 298.4h1.0v1.0h-1.0zM92.9 298.5h1.0v1.0h-1.0zM93.8 302.5h1.0v1.0h-1.0zM83.9 311.2h1.0v1.0h-1.0zM83.1 310.1h1.0v1.0h-1.0zM90.6 310.4h1.0v1.0h-1.0zM81.6 307.9h1.0v1.0h-1.0zM93.6 299.2h1.0v1.0h-1.0zM82.2 299.5h1.0v1.0h-1.0zM82.6 303.6h1.0v1.0h-1.0zM92.8 299.0h1.0v1.0h-1.0zM80.8 310.0h1.0v1.0h-1.0zM82.0 309.9h1.0v1.0h-1.0zM82.0 303.6h1.0v1.0h-1.0zM94.1 298.0h1.0v1.0h-1.0zM86.9 310.9h1.0v1.0h-1.0zM85.3 311.5h1.0v1.0h-1.0zM94.0 308.9h1.0v1.0h-1.0zM83.8 311.2h1.0v1.0h-1.0zM93.8 307.3h1.0v1.0h-1.0zM89.8 310.2h1.0v1.0h-1.0zM91.9 297.4h1.0v1.0h-1.0zM85.6 296.9h1.0v1.0h-1.0zM88.7 298.6h1.0v1.0h-1.0zM86.9 296.8h1.0v1.0h-1.0zM92.7 303.0h1.0v1.0h-1.0zM83.3 298.5h1.0v1.0h-1.0zM84.0 310.8h1.0v1.0h-1.0zM83.8 311.0h1.0v1.0h-1.0zM85.0 297.5h1.0v1.0h-1.0zM93.9 303.9h1.0v1.0h-1.0zM80.9 306.4h1.0v1.0h-1.0zM85.0 297.0h1.0v1.0h-1.0zM80.8 301.9h1.0v1.0h-1.0zM87.0 298.2h1.0v1.0h-1.0zM87.2 298.6h1.0v1.0h-1.0zM81.1 305.1h1.0v1.0h-1.0zM86.8 311.2h1.0v1.0h-1.0zM86.9 310.1h1.0v1.0h-1.0zM86.6 298.4h1.0v1.0h-1.0zM82.2 309.4h1.0v1.0h-1.0z"/>
<path fill="#333" d="M80.5 300.8h1.0v1.0h-1.0zM79.6 299.3h1.0v1.0h-1.0zM80.3 303.4h1.0v1.0h-1.0zM80.6 299.9h1.0v1.0h-1.0zM82.4 301.5h1.0v1.0h-1.0zM82.1 302.6h1.0v1.0h-1.0zM79.6 300.7h1.0v1.0h-1.0zM80.8 304.0h1.0v1.0h-1.0zM80.5 303.3h1.0v1.0h-1.0zM81.1 298.9h1.0v1.0h-1.0z"/>
<path fill="#333" d="M57.8 301.2h1.0v1.0h-1.0zM57.7 300.7h1.0v1.0h-1.0zM59.6 302.0h1.0v1.0h-1.0zM57.5 295.4h1.0v1.0h-1.0zM61.8 302.1h1.0v1.0h-1.0zM48.3 302.2h1.0v1.0h-1.0zM58.6 304.6h1.0v1.0h-1.0zM51.5 305.7h1.0v1.0h-1.0zM55.8 307.7h1.0v1.0h-1.0zM55.8 303.6h1.0v1.0h-1.0zM54.8 299.3h1.0v1.0h-1.0zM61.5 304.2h1.0v1.0h-1.0zM63.6 304.1h1.0v1.0h-1.0zM53.9 298.0h1.0v1.0h-1.0zM53.5 300.4h1.0v1.0h-1.0zM52.8 303.4h1.0v1.0h-1.0zM58.0 301.4h1.0v1.0h-1.0zM57.3 301.7h1.0v1.0h-1.0zM57.5 303.8h1.0v1.0h-1.0zM60.9 300.4h1.0v1.0h-1.0zM49.6 305.4h1.0v1.0h-1.0zM57.0 304.7h1.0v1.0h-1.0zM48.9 301.2h1.0v1.0h-1.0zM56.6 298.5h1.0v1.0h-1.0zM54.1 303.7h1.0v1.0h-1.0zM61.5 305.8h1.0v1.0h-1.0zM52.5 298.6h1.0v1.0h-1.0zM58.9 304.3h1.0v1.0h-1.0zM57.4 298.9h1.0v1.0h-1.0zM60.1 303.9h1.0v1.0h-1.0zM59.0 300.8h1.0v1.0h-1.0zM57.9 303.9h1.0v1.0h-1.0zM53.9 297.6h1.0v1.0h-1.0zM58.0 303.2h1.0v1.0h-1.0zM56.6 304.1h1.0v1.0h-1.0zM53.8 301.8h1.0v1.0h-1.0zM55.1 303.4h1.0v1.0h-1.0zM63.8 301.4h1.0v1.0h-1.0zM66.0 305.7h1.0v1.0h-1.0zM60.1 303.4h1.0v1.0h-1.0zM64.6 301.6h1.0v1.0h-1.0zM56.0 299.4h1.0v1.0h-1.0zM58.7 305.2h1.0v1.0h-1.0zM58.9 303.0h1.0v1.0h-1.0zM55.6 302.4h1.0v1.0h-1.0zM49.9 304.5h1.0v1.0h-1.0zM54.6 299.3h1.0v1.0h-1.0zM53.0 300.0h1.0v1.0h-1.0zM60.4 304.5h1.0v1.0h-1.0zM50.3 304.2h1.0v1.0h-1.0zM60.6 300.6h1.0v1.0h-1.0zM49.7 300.2h1.0v1.0h-1.0zM53.6 302.8h1.0v1.0h-1.0zM54.9 297.1h1.0v1.0h-1.0zM57.6 298.3h1.0v1.0h-1.0zM60.7 299.1h1.0v1.0h-1.0zM53.3 299.9h1.0v1.0h-1.0zM54.0 305.1h1.0v1.0h-1.0zM60.4 303.4h1.0v1.0h-1.0zM58.0 298.3h1.0v1.0h-1.0zM54.1 300.7h1.0v1.0h-1.0zM52.0 303.2h1.0v1.0h-1.0zM53.1 300.3h1.0v1.0h-1.0zM51.7 297.1h1.0v1.0h-1.0zM59.2 305.2h1.0v1.0h-1.0zM57.3 299.7h1.0v1.0h-1.0zM44.1 302.4h1.0v1.0h-1.0zM62.1 302.7h1.0v1.0h-1.0zM60.8 305.5h1.0v1.0h-1.0zM61.7 300.9h1.0v1.0h-1.0zM61.3 303.9h1.0v1.0h-1.0zM49.4 301.0h1.0v1.0h-1.0zM50.0 301.7h1.0v1.0h-1.0zM59.2 299.4h1.0v1.0h-1.0zM47.0 305.1h1.0v1.0h-1.0zM58.2 305.5h1.0v1.0h-1.0zM50.4 304.5h1.0v1.0h-1.0zM66.0 306.8h1.0v1.0h-1.0zM55.5 302.6h1.0v1.0h-1.0zM55.8 304.4h1.0v1.0h-1.0zM61.3 302.2h1.0v1.0h-1.0zM50.2 303.8h1.0v1.0h-1.0zM54.3 303.5h1.0v1.0h-1.0zM57.7 305.9h1.0v1.0h-1.0zM61.7 300.9h1.0v1.0h-1.0zM58.1 306.2h1.0v1.0h-1.0zM54.0 303.0h1.0v1.0h-1.0zM62.0 305.0h1.0v1.0h-1.0zM58.9 298.8h1.0v1.0h-1.0zM50.7 302.6h1.0v1.0h-1.0zM58.3 308.1h1.0v1.0h-1.0zM52.5 304.7h1.0v1.0h-1.0zM60.0 298.0h1.0v1.0h-1.0zM52.7 302.4h1.0v1.0h-1.0zM54.2 301.6h1.0v1.0h-1.0zM58.7 300.1h1.0v1.0h-1.0zM58.6 300.5h1.0v1.0h-1.0zM54.0 303.3h1.0v1.0h-1.0zM53.9 302.7h1.0v1.0h-1.0zM63.9 302.1h1.0v1.0h-1.0zM55.8 303.8h1.0v1.0h-1.0zM54.8 304.6h1.0v1.0h-1.0zM50.6 303.5h1.0v1.0h-1.0zM54.1 300.1h1.0v1.0h-1.0zM64.6 300.0h1.0v1.0h-1.0zM64.6 303.6h1.0v1.0h-1.0zM63.2 299.7h1.0v1.0h-1.0zM62.0 305.5h1.0v1.0h-1.0zM56.0 301.7h1.0v1.0h-1.0zM67.8 302.4h1.0v1.0h-1.0zM54.6 300.5h1.0v1.0h-1.0zM58.6 302.8h1.0v1.0h-1.0zM57.3 306.1h1.0v1.0h-1.0zM55.0 303.1h1.0v1.0h-1.0zM63.2 299.6h1.0v1.0h-1.0zM61.3 306.4h1.0v1.0h-1.0zM50.3 299.4h1.0v1.0h-1.0zM51.7 297.6h1.0v1.0h-1.0zM58.6 297.5h1.0v1.0h-1.0zM58.8 305.5h1.0v1.0h-1.0zM49.1 301.2h1.0v1.0h-1.0zM47.7 303.9h1.0v1.0h-1.0zM53.1 301.4h1.0v1.0h-1.0zM56.8 303.3h1.0v1.0h-1.0zM54.9 302.0h1.0v1.0h-1.0zM54.0 302.3h1.0v1.0h-1.0zM51.1 302.2h1.0v1.0h-1.0zM47.6 300.8h1.0v1.0h-1.0zM65.3 302.2h1.0v1.0h-1.0zM50.7 302.6h1.0v1.0h-1.0z"/>
<path fill="#aaa" d="M60.0 325.2h1.0v1.0h-1.0zM53.0 312.6h1.0v1.0h-1.0zM67.1 302.3h1.0v1.0h-1.0zM59.3 319.1h1.0v1.0h-1.0zM44.7 318.3h1.0v1.0h-1.0zM60.4 327.9h1.0v1.0h-1.0zM51.9 329.5h1.0v1.0h-1.0zM56.3 314.5h1.0v1.0h-1.0zM65.5 301.0h1.0v1.0h-1.0zM61.2 318.8h1.0v1.0h-1.0zM52.1 325.9h1.0v1.0h-1.0zM52.8 314.2h1.0v1.0h-1.0zM56.6 323.1h1.0v1.0h-1.0zM49.1 313.1h1.0v1.0h-1.0zM54.1 316.6h1.0v1.0h-1.0zM63.8 308.8h1.0v1.0h-1.0zM63.9 312.1h1.0v1.0h-1.0zM56.1 308.2h1.0v1.0h-1.0zM56.2 329.2h1.0v1.0h-1.0zM59.7 323.8h1.0v1.0h-1.0zM51.9 309.5h1.0v1.0h-1.0zM51.2 317.6h1.0v1.0h-1.0zM59.2 323.5h1.0v1.0h-1.0zM45.0 321.7h1.0v1.0h-1.0z"/>
<path fill="#bbb" d="M78.9 304.7h1.0v1.0h-1.0zM70.5 300.8h1.0v1.0h-1.0zM70.1 299.0h1.0v1.0h-1.0zM79.2 305.7h1.0v1.0h-1.0zM76.6 308.6h1.0v1.0h-1.0zM79.1 305.8h1.0v1.0h-1.0zM76.2 306.0h1.0v1.0h-1.0zM77.0 305.5h1.0v1.0h-1.0zM76.8 299.4h1.0v1.0h-1.0zM76.7 303.3h1.0v1.0h-1.0z"/>
<path fill="#bbb" d="M95.9 317.4h1.0v1.0h-1.0zM76.2 316.5h1.0v1.0h-1.0zM96.3 328.8h1.0v1.0h-1.0zM92.3 321.2h1.0v1.0h-1.0zM98.0 327.0h1.0v1.0h-1.0zM89.1 319.6h1.0v1.0h-1.0z"/>
<text x="81.80" y="292.80" font-size="8.2" font-weight="normal" text-anchor="start" fill="#000" color="#000" textLength="13.0" lengthAdjust="spacingAndGlyphs" stroke="#000" stroke-width="0.12">97%</text>
<g transform="translate(30.90,310.80) rotate(-90)"><text x="0" y="0" font-size="9.2" font-weight="normal" text-anchor="middle" fill="#000" textLength="17.0" lengthAdjust="spacingAndGlyphs">CD3</text></g>
<text x="60.50" y="346.70" font-size="8.7" font-weight="normal" text-anchor="start" fill="#000" color="#000" textLength="17.3" lengthAdjust="spacingAndGlyphs" >CD8</text>
<rect x="132.70" y="283.60" width="64.10" height="47.30" fill="none" stroke="#777" stroke-width="0.8" />
<line x1="132.70" y1="283.60" x2="132.70" y2="331.50" stroke="#111" stroke-width="1.2" />
<line x1="132.10" y1="330.90" x2="196.80" y2="330.90" stroke="#111" stroke-width="1.2" />
<line x1="150.50" y1="283.60" x2="150.50" y2="330.90" stroke="#444" stroke-width="0.9" />
<line x1="132.70" y1="315.50" x2="196.80" y2="315.50" stroke="#444" stroke-width="0.9" />
<path d="M137.5 330.9v1.3M140.3 330.9v1.3M142.3 330.9v1.3M143.9 330.9v1.3M145.2 330.9v1.3M146.2 330.9v1.3M147.2 330.9v1.3M148.0 330.9v1.3M153.5 330.9v1.3M156.4 330.9v1.3M158.4 330.9v1.3M159.9 330.9v1.3M161.2 330.9v1.3M162.3 330.9v1.3M163.2 330.9v1.3M164.0 330.9v1.3M169.6 330.9v1.3M172.4 330.9v1.3M174.4 330.9v1.3M176.0 330.9v1.3M177.2 330.9v1.3M178.3 330.9v1.3M179.2 330.9v1.3M180.0 330.9v1.3M185.6 330.9v1.3M188.4 330.9v1.3M190.4 330.9v1.3M192.0 330.9v1.3M193.2 330.9v1.3M194.3 330.9v1.3M195.2 330.9v1.3M196.1 330.9v1.3M132.7 330.9v2M148.7 330.9v2M164.8 330.9v2M180.8 330.9v2M196.8 330.9v2" stroke="#444" stroke-width="0.7" fill="none"/>
<path d="M132.7 330.9h-2M132.7 319.1h-2M132.7 307.2h-2M132.7 295.4h-2M132.7 283.6h-2" stroke="#444" stroke-width="0.7" fill="none"/>
<text x="130.10" y="338.50" font-size="4.8" font-weight="normal" text-anchor="start" fill="#707070" color="#707070" >10</text>
<text x="134.30" y="335.90" font-size="4.08" font-weight="normal" text-anchor="start" fill="#707070" color="#707070" >0</text>
<text x="146.12" y="338.50" font-size="4.8" font-weight="normal" text-anchor="start" fill="#707070" color="#707070" >10</text>
<text x="150.32" y="335.90" font-size="4.08" font-weight="normal" text-anchor="start" fill="#707070" color="#707070" >1</text>
<text x="162.15" y="338.50" font-size="4.8" font-weight="normal" text-anchor="start" fill="#707070" color="#707070" >10</text>
<text x="166.35" y="335.90" font-size="4.08" font-weight="normal" text-anchor="start" fill="#707070" color="#707070" >2</text>
<text x="178.18" y="338.50" font-size="4.8" font-weight="normal" text-anchor="start" fill="#707070" color="#707070" >10</text>
<text x="182.38" y="335.90" font-size="4.08" font-weight="normal" text-anchor="start" fill="#707070" color="#707070" >3</text>
<text x="194.20" y="338.50" font-size="4.8" font-weight="normal" text-anchor="start" fill="#707070" color="#707070" >10</text>
<text x="198.40" y="335.90" font-size="4.08" font-weight="normal" text-anchor="start" fill="#707070" color="#707070" >4</text>
<g transform="translate(129.30,330.90) rotate(-90)"><text x="0" y="0" font-size="4.8" text-anchor="middle" fill="#a8a8a8">10<tspan font-size="3.36" dy="-2">0</tspan></text></g>
<g transform="translate(129.30,319.07) rotate(-90)"><text x="0" y="0" font-size="4.8" text-anchor="middle" fill="#a8a8a8">10<tspan font-size="3.36" dy="-2">1</tspan></text></g>
<g transform="translate(129.30,307.25) rotate(-90)"><text x="0" y="0" font-size="4.8" text-anchor="middle" fill="#a8a8a8">10<tspan font-size="3.36" dy="-2">2</tspan></text></g>
<g transform="translate(129.30,295.43) rotate(-90)"><text x="0" y="0" font-size="4.8" text-anchor="middle" fill="#a8a8a8">10<tspan font-size="3.36" dy="-2">3</tspan></text></g>
<g transform="translate(129.30,283.60) rotate(-90)"><text x="0" y="0" font-size="4.8" text-anchor="middle" fill="#a8a8a8">10<tspan font-size="3.36" dy="-2">4</tspan></text></g>
<path d="M158.6 331 L159.6 326 Q161 321.5 165 319 Q168.5 316.6 172 316.2 Q176.5 316 177.6 319 L178.2 324 L177.6 331 Z" fill="#000"/>
<path fill="#000" d="M175.1 315.4h1.0v1.0h-1.0zM158.3 327.0h1.0v1.0h-1.0zM177.8 317.2h1.0v1.0h-1.0zM178.0 316.8h1.0v1.0h-1.0zM175.8 317.0h1.0v1.0h-1.0zM159.5 327.7h1.0v1.0h-1.0zM160.2 324.4h1.0v1.0h-1.0zM165.3 316.3h1.0v1.0h-1.0zM164.4 318.7h1.0v1.0h-1.0zM178.6 320.6h1.0v1.0h-1.0zM159.1 329.8h1.0v1.0h-1.0zM160.1 323.4h1.0v1.0h-1.0zM177.2 320.3h1.0v1.0h-1.0zM176.9 320.9h1.0v1.0h-1.0zM163.2 319.6h1.0v1.0h-1.0zM170.4 316.0h1.0v1.0h-1.0zM174.7 316.6h1.0v1.0h-1.0zM168.7 316.2h1.0v1.0h-1.0zM177.8 316.4h1.0v1.0h-1.0zM158.8 329.3h1.0v1.0h-1.0zM159.1 327.9h1.0v1.0h-1.0zM160.9 319.7h1.0v1.0h-1.0zM176.5 319.8h1.0v1.0h-1.0zM166.5 315.4h1.0v1.0h-1.0zM158.7 327.5h1.0v1.0h-1.0zM158.8 327.1h1.0v1.0h-1.0zM159.2 323.4h1.0v1.0h-1.0zM177.7 326.1h1.0v1.0h-1.0zM158.8 324.8h1.0v1.0h-1.0zM177.9 318.2h1.0v1.0h-1.0zM176.6 319.8h1.0v1.0h-1.0zM163.0 320.7h1.0v1.0h-1.0zM157.8 324.3h1.0v1.0h-1.0zM164.5 317.8h1.0v1.0h-1.0zM162.8 321.1h1.0v1.0h-1.0zM160.1 325.4h1.0v1.0h-1.0zM178.9 323.9h1.0v1.0h-1.0zM177.7 318.9h1.0v1.0h-1.0zM165.4 316.4h1.0v1.0h-1.0zM177.5 323.0h1.0v1.0h-1.0zM161.5 321.4h1.0v1.0h-1.0zM159.8 325.4h1.0v1.0h-1.0zM176.5 317.9h1.0v1.0h-1.0zM170.0 315.3h1.0v1.0h-1.0zM173.4 315.5h1.0v1.0h-1.0zM166.1 315.6h1.0v1.0h-1.0zM167.9 315.7h1.0v1.0h-1.0zM176.2 315.6h1.0v1.0h-1.0zM177.4 317.9h1.0v1.0h-1.0zM165.7 317.9h1.0v1.0h-1.0zM158.2 328.4h1.0v1.0h-1.0zM161.9 321.2h1.0v1.0h-1.0zM169.8 315.8h1.0v1.0h-1.0zM178.5 319.7h1.0v1.0h-1.0zM165.5 317.8h1.0v1.0h-1.0zM173.8 316.0h1.0v1.0h-1.0zM177.5 317.3h1.0v1.0h-1.0zM168.0 316.0h1.0v1.0h-1.0zM176.6 323.5h1.0v1.0h-1.0zM163.2 320.3h1.0v1.0h-1.0zM162.1 320.2h1.0v1.0h-1.0zM165.6 316.0h1.0v1.0h-1.0zM169.3 315.5h1.0v1.0h-1.0zM167.1 317.9h1.0v1.0h-1.0zM178.1 317.7h1.0v1.0h-1.0zM169.9 315.5h1.0v1.0h-1.0zM177.8 319.4h1.0v1.0h-1.0zM171.0 315.2h1.0v1.0h-1.0zM173.8 315.4h1.0v1.0h-1.0zM166.3 316.8h1.0v1.0h-1.0zM177.8 317.5h1.0v1.0h-1.0zM176.4 319.8h1.0v1.0h-1.0zM168.3 316.8h1.0v1.0h-1.0zM168.7 316.7h1.0v1.0h-1.0zM164.4 317.3h1.0v1.0h-1.0zM167.7 315.8h1.0v1.0h-1.0zM158.3 328.6h1.0v1.0h-1.0zM159.4 325.5h1.0v1.0h-1.0zM164.6 317.3h1.0v1.0h-1.0zM159.1 325.7h1.0v1.0h-1.0zM179.0 324.4h1.0v1.0h-1.0zM176.1 316.3h1.0v1.0h-1.0zM174.1 316.5h1.0v1.0h-1.0zM172.6 315.1h1.0v1.0h-1.0zM177.4 325.2h1.0v1.0h-1.0zM163.7 317.3h1.0v1.0h-1.0zM157.8 325.3h1.0v1.0h-1.0zM170.7 315.2h1.0v1.0h-1.0zM159.1 327.0h1.0v1.0h-1.0zM158.7 328.4h1.0v1.0h-1.0zM176.4 329.3h1.0v1.0h-1.0zM176.5 319.3h1.0v1.0h-1.0zM168.2 315.3h1.0v1.0h-1.0zM177.8 320.9h1.0v1.0h-1.0zM173.3 315.2h1.0v1.0h-1.0zM168.3 316.7h1.0v1.0h-1.0zM175.9 314.7h1.0v1.0h-1.0zM177.2 324.6h1.0v1.0h-1.0zM159.5 327.3h1.0v1.0h-1.0zM177.7 320.8h1.0v1.0h-1.0zM158.7 322.7h1.0v1.0h-1.0zM176.2 316.0h1.0v1.0h-1.0zM170.6 315.0h1.0v1.0h-1.0zM177.8 319.3h1.0v1.0h-1.0zM176.0 317.3h1.0v1.0h-1.0zM178.7 321.0h1.0v1.0h-1.0zM170.6 315.7h1.0v1.0h-1.0zM177.1 320.0h1.0v1.0h-1.0zM175.7 316.7h1.0v1.0h-1.0zM175.9 317.1h1.0v1.0h-1.0zM175.9 316.1h1.0v1.0h-1.0zM168.4 316.3h1.0v1.0h-1.0zM158.5 329.2h1.0v1.0h-1.0zM177.5 327.5h1.0v1.0h-1.0zM177.3 328.4h1.0v1.0h-1.0zM174.5 316.4h1.0v1.0h-1.0zM176.4 316.4h1.0v1.0h-1.0zM167.7 316.2h1.0v1.0h-1.0zM173.8 316.4h1.0v1.0h-1.0zM174.9 315.5h1.0v1.0h-1.0zM169.4 314.5h1.0v1.0h-1.0zM177.0 316.5h1.0v1.0h-1.0zM166.8 317.2h1.0v1.0h-1.0zM159.8 327.8h1.0v1.0h-1.0zM177.4 322.5h1.0v1.0h-1.0zM158.1 329.1h1.0v1.0h-1.0zM176.7 327.5h1.0v1.0h-1.0zM160.7 321.6h1.0v1.0h-1.0zM164.1 318.4h1.0v1.0h-1.0zM158.1 326.8h1.0v1.0h-1.0zM166.3 317.9h1.0v1.0h-1.0zM159.7 324.1h1.0v1.0h-1.0zM177.9 317.2h1.0v1.0h-1.0zM165.9 317.5h1.0v1.0h-1.0zM158.0 326.1h1.0v1.0h-1.0zM176.8 322.7h1.0v1.0h-1.0zM166.0 316.8h1.0v1.0h-1.0zM165.4 318.3h1.0v1.0h-1.0zM169.5 316.1h1.0v1.0h-1.0zM174.2 316.3h1.0v1.0h-1.0zM174.1 315.5h1.0v1.0h-1.0zM176.6 315.9h1.0v1.0h-1.0zM161.7 320.2h1.0v1.0h-1.0zM178.3 321.1h1.0v1.0h-1.0zM167.1 315.6h1.0v1.0h-1.0zM176.9 320.8h1.0v1.0h-1.0zM170.0 314.6h1.0v1.0h-1.0zM176.2 316.3h1.0v1.0h-1.0zM178.7 323.3h1.0v1.0h-1.0zM158.4 327.3h1.0v1.0h-1.0z"/>
<ellipse cx="169.6" cy="304.8" rx="4.4" ry="2.0" fill="#111" transform="rotate(-22 169.6 304.8)"/>
<path fill="#333" d="M168.8 305.2h1.0v1.0h-1.0zM171.8 307.4h1.0v1.0h-1.0zM167.9 306.8h1.0v1.0h-1.0zM172.2 306.0h1.0v1.0h-1.0zM167.6 306.2h1.0v1.0h-1.0zM169.3 305.3h1.0v1.0h-1.0zM168.9 305.8h1.0v1.0h-1.0zM172.5 306.5h1.0v1.0h-1.0zM169.1 306.3h1.0v1.0h-1.0zM173.4 303.4h1.0v1.0h-1.0zM173.4 302.8h1.0v1.0h-1.0zM171.0 305.7h1.0v1.0h-1.0zM173.5 305.2h1.0v1.0h-1.0zM168.4 303.6h1.0v1.0h-1.0zM166.3 305.9h1.0v1.0h-1.0zM169.0 303.7h1.0v1.0h-1.0zM171.0 303.7h1.0v1.0h-1.0zM168.5 304.1h1.0v1.0h-1.0zM173.9 307.0h1.0v1.0h-1.0zM169.2 302.4h1.0v1.0h-1.0zM170.3 304.9h1.0v1.0h-1.0zM170.5 305.6h1.0v1.0h-1.0zM168.8 306.2h1.0v1.0h-1.0zM171.8 305.1h1.0v1.0h-1.0zM168.5 304.1h1.0v1.0h-1.0zM171.4 303.2h1.0v1.0h-1.0zM169.2 303.7h1.0v1.0h-1.0zM166.0 305.7h1.0v1.0h-1.0zM169.5 304.9h1.0v1.0h-1.0zM171.9 302.6h1.0v1.0h-1.0zM169.4 305.2h1.0v1.0h-1.0zM171.8 303.2h1.0v1.0h-1.0zM171.5 305.1h1.0v1.0h-1.0zM173.1 306.5h1.0v1.0h-1.0zM171.0 308.0h1.0v1.0h-1.0zM169.6 304.2h1.0v1.0h-1.0zM168.7 303.4h1.0v1.0h-1.0zM169.5 302.0h1.0v1.0h-1.0zM169.4 305.4h1.0v1.0h-1.0zM172.2 304.3h1.0v1.0h-1.0zM173.2 303.8h1.0v1.0h-1.0zM169.3 302.0h1.0v1.0h-1.0zM167.6 303.6h1.0v1.0h-1.0zM173.4 305.6h1.0v1.0h-1.0zM166.8 305.6h1.0v1.0h-1.0z"/>
<path fill="#aaa" d="M148.9 318.7h1.0v1.0h-1.0zM146.2 317.6h1.0v1.0h-1.0zM145.2 327.5h1.0v1.0h-1.0zM138.2 324.1h1.0v1.0h-1.0zM149.5 325.3h1.0v1.0h-1.0zM142.7 320.2h1.0v1.0h-1.0zM135.0 321.7h1.0v1.0h-1.0zM140.6 319.6h1.0v1.0h-1.0zM139.0 318.8h1.0v1.0h-1.0zM145.3 325.7h1.0v1.0h-1.0zM137.8 320.1h1.0v1.0h-1.0zM142.2 322.8h1.0v1.0h-1.0zM149.0 321.6h1.0v1.0h-1.0zM138.8 328.5h1.0v1.0h-1.0zM136.3 324.3h1.0v1.0h-1.0zM139.3 327.6h1.0v1.0h-1.0zM142.8 326.9h1.0v1.0h-1.0zM136.7 325.7h1.0v1.0h-1.0zM143.6 323.0h1.0v1.0h-1.0zM146.3 327.8h1.0v1.0h-1.0zM135.8 320.8h1.0v1.0h-1.0zM139.8 319.7h1.0v1.0h-1.0zM135.0 320.7h1.0v1.0h-1.0zM137.2 326.1h1.0v1.0h-1.0zM141.2 318.5h1.0v1.0h-1.0z"/>
<path fill="#bbb" d="M161.1 306.6h1.0v1.0h-1.0zM162.2 302.4h1.0v1.0h-1.0zM154.0 300.2h1.0v1.0h-1.0zM179.8 310.5h1.0v1.0h-1.0zM154.4 310.0h1.0v1.0h-1.0zM179.4 307.9h1.0v1.0h-1.0zM155.0 306.8h1.0v1.0h-1.0zM164.2 302.7h1.0v1.0h-1.0z"/>
<text x="182.30" y="292.80" font-size="8.2" font-weight="normal" text-anchor="start" fill="#000" color="#000" textLength="9.4" lengthAdjust="spacingAndGlyphs" stroke="#000" stroke-width="0.12">2%</text>
<g transform="translate(120.00,311.20) rotate(-90)"><text x="0" y="0" font-size="9.4" font-weight="normal" text-anchor="middle" fill="#000" textLength="14.8" lengthAdjust="spacingAndGlyphs">CD4</text></g>
<text x="153.40" y="346.70" font-size="8.7" font-weight="normal" text-anchor="start" fill="#000" color="#000" textLength="16.4" lengthAdjust="spacingAndGlyphs" >CD3</text>
<line x1="25.30" y1="210.40" x2="224.40" y2="210.40" stroke="#c9c9c9" stroke-width="1" />
<line x1="25.30" y1="194.50" x2="224.40" y2="194.50" stroke="#c9c9c9" stroke-width="1" />
<line x1="25.30" y1="178.60" x2="224.40" y2="178.60" stroke="#c9c9c9" stroke-width="1" />
<line x1="25.30" y1="162.70" x2="224.40" y2="162.70" stroke="#c9c9c9" stroke-width="1" />
<line x1="25.30" y1="146.80" x2="224.40" y2="146.80" stroke="#c9c9c9" stroke-width="1" />
<line x1="25.30" y1="130.90" x2="224.40" y2="130.90" stroke="#c9c9c9" stroke-width="1" />
<line x1="224.40" y1="130.90" x2="224.40" y2="226.30" stroke="#c9c9c9" stroke-width="1" />
<line x1="25.30" y1="130.90" x2="25.30" y2="226.30" stroke="#999" stroke-width="1" />
<line x1="25.30" y1="226.30" x2="224.40" y2="226.30" stroke="#999" stroke-width="1" />
<line x1="23.50" y1="226.30" x2="25.30" y2="226.30" stroke="#999" stroke-width="1" />
<text x="20.00" y="229.40" font-size="7.8" font-weight="normal" text-anchor="end" fill="#000" color="#000" stroke="#000" stroke-width="0.15">0</text>
<line x1="23.50" y1="210.40" x2="25.30" y2="210.40" stroke="#999" stroke-width="1" />
<text x="20.00" y="213.50" font-size="7.8" font-weight="normal" text-anchor="end" fill="#000" color="#000" textLength="11.4" lengthAdjust="spacingAndGlyphs" stroke="#000" stroke-width="0.15">100</text>
<line x1="23.50" y1="194.50" x2="25.30" y2="194.50" stroke="#999" stroke-width="1" />
<text x="20.00" y="197.60" font-size="7.8" font-weight="normal" text-anchor="end" fill="#000" color="#000" textLength="11.4" lengthAdjust="spacingAndGlyphs" stroke="#000" stroke-width="0.15">200</text>
<line x1="23.50" y1="178.60" x2="25.30" y2="178.60" stroke="#999" stroke-width="1" />
<text x="20.00" y="181.70" font-size="7.8" font-weight="normal" text-anchor="end" fill="#000" color="#000" textLength="11.4" lengthAdjust="spacingAndGlyphs" stroke="#000" stroke-width="0.15">300</text>
<line x1="23.50" y1="162.70" x2="25.30" y2="162.70" stroke="#999" stroke-width="1" />
<text x="20.00" y="165.80" font-size="7.8" font-weight="normal" text-anchor="end" fill="#000" color="#000" textLength="11.4" lengthAdjust="spacingAndGlyphs" stroke="#000" stroke-width="0.15">400</text>
<line x1="23.50" y1="146.80" x2="25.30" y2="146.80" stroke="#999" stroke-width="1" />
<text x="20.00" y="149.90" font-size="7.8" font-weight="normal" text-anchor="end" fill="#000" color="#000" textLength="11.4" lengthAdjust="spacingAndGlyphs" stroke="#000" stroke-width="0.15">500</text>
<line x1="23.50" y1="130.90" x2="25.30" y2="130.90" stroke="#999" stroke-width="1" />
<text x="20.00" y="134.00" font-size="7.8" font-weight="normal" text-anchor="end" fill="#000" color="#000" textLength="11.4" lengthAdjust="spacingAndGlyphs" stroke="#000" stroke-width="0.15">600</text>
<line x1="25.30" y1="226.30" x2="25.30" y2="228.30" stroke="#999" stroke-width="1" />
<line x1="58.48" y1="226.30" x2="58.48" y2="228.30" stroke="#999" stroke-width="1" />
<line x1="91.67" y1="226.30" x2="91.67" y2="228.30" stroke="#999" stroke-width="1" />
<line x1="124.85" y1="226.30" x2="124.85" y2="228.30" stroke="#999" stroke-width="1" />
<line x1="158.03" y1="226.30" x2="158.03" y2="228.30" stroke="#999" stroke-width="1" />
<line x1="191.22" y1="226.30" x2="191.22" y2="228.30" stroke="#999" stroke-width="1" />
<line x1="224.40" y1="226.30" x2="224.40" y2="228.30" stroke="#999" stroke-width="1" />
<rect x="35.49" y="226.14" width="13.80" height="0.16" fill="#000" stroke="none" stroke-width="1" />
<rect x="68.67" y="226.14" width="13.80" height="0.16" fill="#000" stroke="none" stroke-width="1" />
<rect x="101.86" y="138.06" width="13.80" height="88.25" fill="#000" stroke="none" stroke-width="1" />
<line x1="108.76" y1="138.06" x2="108.76" y2="135.35" stroke="#222" stroke-width="0.9" />
<line x1="107.16" y1="135.35" x2="110.36" y2="135.35" stroke="#222" stroke-width="0.9" />
<rect x="135.04" y="205.47" width="13.80" height="20.83" fill="#000" stroke="none" stroke-width="1" />
<line x1="141.94" y1="205.47" x2="141.94" y2="203.80" stroke="#222" stroke-width="0.9" />
<line x1="140.34" y1="203.80" x2="143.54" y2="203.80" stroke="#222" stroke-width="0.9" />
<rect x="168.22" y="210.40" width="13.80" height="15.90" fill="#000" stroke="none" stroke-width="1" />
<line x1="175.12" y1="210.40" x2="175.12" y2="208.49" stroke="#222" stroke-width="0.9" />
<line x1="173.53" y1="208.49" x2="176.72" y2="208.49" stroke="#222" stroke-width="0.9" />
<rect x="201.41" y="225.03" width="13.80" height="1.27" fill="#000" stroke="none" stroke-width="1" />
<line x1="208.31" y1="225.03" x2="208.31" y2="224.55" stroke="#222" stroke-width="0.9" />
<line x1="206.71" y1="224.55" x2="209.91" y2="224.55" stroke="#222" stroke-width="0.9" />
<g transform="translate(7.00,177.90) rotate(-90)"><text x="0" y="0" font-size="8.6" font-weight="bold" text-anchor="middle" fill="#000" textLength="44.5" lengthAdjust="spacingAndGlyphs">IFN<tspan font-size="5" dy="0.5">γ</tspan><tspan dy="-0.5"> (pg/mL)</tspan></text></g>
<text x="42.60" y="239.50" font-size="7.4" font-weight="bold" text-anchor="middle" fill="#000" color="#000" >CTL</text>
<text x="43.30" y="248.80" font-size="7.4" font-weight="bold" text-anchor="middle" fill="#000" color="#000" >alone</text>
<text x="76.20" y="239.50" font-size="7.4" font-weight="bold" text-anchor="middle" fill="#000" color="#000" >CTL +</text>
<text x="76.90" y="248.80" font-size="7.4" font-weight="bold" text-anchor="middle" fill="#000" color="#000" >Donor</text>
<text x="77.00" y="257.80" font-size="7.4" font-weight="bold" text-anchor="middle" fill="#000" color="#000" >LCL</text>
<text x="109.10" y="239.50" font-size="7.4" font-weight="bold" text-anchor="middle" fill="#000" color="#000" >CTL +</text>
<text x="110.00" y="248.80" font-size="7.4" font-weight="bold" text-anchor="middle" fill="#000" color="#000" >Patient</text>
<text x="110.00" y="257.80" font-size="7.4" font-weight="bold" text-anchor="middle" fill="#000" color="#000" >LCL</text>
<text x="140.60" y="239.30" font-size="7.4" font-weight="bold" text-anchor="middle" fill="#000" color="#000" >CTL +</text>
<text x="142.10" y="248.80" font-size="7.4" font-weight="bold" text-anchor="middle" fill="#000" color="#000" >Patient</text>
<text x="141.00" y="255.80" font-size="7.4" font-weight="bold" text-anchor="middle" fill="#000" color="#000" >GPI(-)</text>
<text x="142.80" y="262.60" font-size="7.4" font-weight="bold" text-anchor="middle" fill="#000" color="#000" >Mono</text>
<text x="175.70" y="239.30" font-size="7.4" font-weight="bold" text-anchor="middle" fill="#000" color="#000" >CTL +</text>
<text x="177.10" y="248.80" font-size="7.4" font-weight="bold" text-anchor="middle" fill="#000" color="#000" >Patient</text>
<text x="176.60" y="255.80" font-size="7.4" font-weight="bold" text-anchor="middle" fill="#000" color="#000" >GPI(+)</text>
<text x="176.80" y="262.60" font-size="7.4" font-weight="bold" text-anchor="middle" fill="#000" color="#000" >Mono</text>
<text x="208.70" y="239.30" font-size="7.4" font-weight="bold" text-anchor="middle" fill="#000" color="#000" >CTL +</text>
<text x="208.50" y="248.80" font-size="7.4" font-weight="bold" text-anchor="middle" fill="#000" color="#000" >K562</text>
<line x1="273.90" y1="153.05" x2="417.90" y2="153.05" stroke="#c9c9c9" stroke-width="1" />
<line x1="273.90" y1="138.80" x2="417.90" y2="138.80" stroke="#c9c9c9" stroke-width="1" />
<line x1="273.90" y1="124.55" x2="417.90" y2="124.55" stroke="#c9c9c9" stroke-width="1" />
<line x1="273.90" y1="110.30" x2="417.90" y2="110.30" stroke="#c9c9c9" stroke-width="1" />
<line x1="273.90" y1="96.05" x2="417.90" y2="96.05" stroke="#c9c9c9" stroke-width="1" />
<line x1="273.90" y1="81.80" x2="417.90" y2="81.80" stroke="#c9c9c9" stroke-width="1" />
<line x1="273.90" y1="67.55" x2="417.90" y2="67.55" stroke="#c9c9c9" stroke-width="1" />
<line x1="273.90" y1="53.30" x2="417.90" y2="53.30" stroke="#c9c9c9" stroke-width="1" />
<line x1="273.90" y1="39.05" x2="417.90" y2="39.05" stroke="#c9c9c9" stroke-width="1" />
<line x1="273.90" y1="24.80" x2="417.90" y2="24.80" stroke="#c9c9c9" stroke-width="1" />
<line x1="273.90" y1="24.80" x2="273.90" y2="167.30" stroke="#bbb" stroke-width="1" />
<line x1="273.90" y1="167.30" x2="417.90" y2="167.30" stroke="#bbb" stroke-width="1" />
<line x1="271.90" y1="167.30" x2="273.90" y2="167.30" stroke="#bbb" stroke-width="1" />
<text x="271.20" y="173.40" font-size="10.0" font-weight="normal" text-anchor="end" fill="#111" color="#111" >0</text>
<line x1="271.90" y1="153.05" x2="273.90" y2="153.05" stroke="#bbb" stroke-width="1" />
<text x="271.20" y="159.15" font-size="10.0" font-weight="normal" text-anchor="end" fill="#111" color="#111" >10</text>
<line x1="271.90" y1="138.80" x2="273.90" y2="138.80" stroke="#bbb" stroke-width="1" />
<text x="271.20" y="144.90" font-size="10.0" font-weight="normal" text-anchor="end" fill="#111" color="#111" >20</text>
<line x1="271.90" y1="124.55" x2="273.90" y2="124.55" stroke="#bbb" stroke-width="1" />
<text x="271.20" y="130.65" font-size="10.0" font-weight="normal" text-anchor="end" fill="#111" color="#111" >30</text>
<line x1="271.90" y1="110.30" x2="273.90" y2="110.30" stroke="#bbb" stroke-width="1" />
<text x="271.20" y="116.40" font-size="10.0" font-weight="normal" text-anchor="end" fill="#111" color="#111" >40</text>
<line x1="271.90" y1="96.05" x2="273.90" y2="96.05" stroke="#bbb" stroke-width="1" />
<text x="271.20" y="102.15" font-size="10.0" font-weight="normal" text-anchor="end" fill="#111" color="#111" >50</text>
<line x1="271.90" y1="81.80" x2="273.90" y2="81.80" stroke="#bbb" stroke-width="1" />
<text x="271.20" y="87.90" font-size="10.0" font-weight="normal" text-anchor="end" fill="#111" color="#111" >60</text>
<line x1="271.90" y1="67.55" x2="273.90" y2="67.55" stroke="#bbb" stroke-width="1" />
<text x="271.20" y="73.65" font-size="10.0" font-weight="normal" text-anchor="end" fill="#111" color="#111" >70</text>
<line x1="271.90" y1="53.30" x2="273.90" y2="53.30" stroke="#bbb" stroke-width="1" />
<text x="271.20" y="59.40" font-size="10.0" font-weight="normal" text-anchor="end" fill="#111" color="#111" >80</text>
<line x1="271.90" y1="39.05" x2="273.90" y2="39.05" stroke="#bbb" stroke-width="1" />
<text x="271.20" y="45.15" font-size="10.0" font-weight="normal" text-anchor="end" fill="#111" color="#111" >90</text>
<line x1="271.90" y1="24.80" x2="273.90" y2="24.80" stroke="#bbb" stroke-width="1" />
<text x="271.20" y="30.90" font-size="10.0" font-weight="normal" text-anchor="end" fill="#111" color="#111" >100</text>
<line x1="273.90" y1="167.30" x2="273.90" y2="169.50" stroke="#bbb" stroke-width="1" />
<line x1="297.90" y1="167.30" x2="297.90" y2="169.50" stroke="#bbb" stroke-width="1" />
<line x1="321.90" y1="167.30" x2="321.90" y2="169.50" stroke="#bbb" stroke-width="1" />
<line x1="345.90" y1="167.30" x2="345.90" y2="169.50" stroke="#bbb" stroke-width="1" />
<line x1="369.90" y1="167.30" x2="369.90" y2="169.50" stroke="#bbb" stroke-width="1" />
<line x1="393.90" y1="167.30" x2="393.90" y2="169.50" stroke="#bbb" stroke-width="1" />
<line x1="417.90" y1="167.30" x2="417.90" y2="169.50" stroke="#bbb" stroke-width="1" />
<text x="289.10" y="183.50" font-size="10.4" font-weight="normal" text-anchor="middle" fill="#111" color="#111" >1.25</text>
<text x="313.10" y="183.50" font-size="10.4" font-weight="normal" text-anchor="middle" fill="#111" color="#111" >2.5</text>
<text x="337.00" y="183.50" font-size="10.4" font-weight="normal" text-anchor="middle" fill="#111" color="#111" >5</text>
<text x="360.90" y="183.50" font-size="10.4" font-weight="normal" text-anchor="middle" fill="#111" color="#111" >10</text>
<text x="384.80" y="183.50" font-size="10.4" font-weight="normal" text-anchor="middle" fill="#111" color="#111" >20</text>
<text x="408.70" y="183.50" font-size="10.4" font-weight="normal" text-anchor="middle" fill="#111" color="#111" >40</text>
<text x="351.50" y="195.20" font-size="9.8" font-weight="bold" text-anchor="middle" fill="#000" color="#000" textLength="39.5" lengthAdjust="spacingAndGlyphs" >E/T ratio</text>
<g transform="translate(252.60,84.00) rotate(-90)"><text x="0" y="0" font-size="10.6" font-weight="bold" text-anchor="middle" fill="#000" textLength="75.6" lengthAdjust="spacingAndGlyphs">% Specific lysis</text></g>
<text x="295.60" y="9.60" font-size="11.4" font-weight="bold" text-anchor="start" fill="#000" color="#000" textLength="67.8" lengthAdjust="spacingAndGlyphs" >Cytotoxicity</text>
<text x="367.6" y="9.9" font-size="9.2" fill="#000" textLength="86.0" lengthAdjust="spacingAndGlyphs">(Cr<tspan font-size="5.8" dy="-3.8">51</tspan><tspan dy="3.8"> release assay)</tspan></text>
<line x1="286.20" y1="168.73" x2="286.20" y2="163.03" stroke="#000" stroke-width="1" />
<line x1="284.20" y1="163.03" x2="288.20" y2="163.03" stroke="#000" stroke-width="1" />
<line x1="284.20" y1="168.73" x2="288.20" y2="168.73" stroke="#000" stroke-width="1" />
<line x1="310.20" y1="157.33" x2="310.20" y2="150.20" stroke="#000" stroke-width="1" />
<line x1="308.20" y1="150.20" x2="312.20" y2="150.20" stroke="#000" stroke-width="1" />
<line x1="308.20" y1="157.33" x2="312.20" y2="157.33" stroke="#000" stroke-width="1" />
<line x1="334.10" y1="167.30" x2="334.10" y2="155.90" stroke="#000" stroke-width="1" />
<line x1="332.10" y1="155.90" x2="336.10" y2="155.90" stroke="#000" stroke-width="1" />
<line x1="332.10" y1="167.30" x2="336.10" y2="167.30" stroke="#000" stroke-width="1" />
<line x1="358.00" y1="170.15" x2="358.00" y2="155.90" stroke="#000" stroke-width="1" />
<line x1="356.00" y1="155.90" x2="360.00" y2="155.90" stroke="#000" stroke-width="1" />
<line x1="356.00" y1="170.15" x2="360.00" y2="170.15" stroke="#000" stroke-width="1" />
<line x1="381.90" y1="168.30" x2="381.90" y2="165.45" stroke="#000" stroke-width="1" />
<line x1="379.90" y1="165.45" x2="383.90" y2="165.45" stroke="#000" stroke-width="1" />
<line x1="379.90" y1="168.30" x2="383.90" y2="168.30" stroke="#000" stroke-width="1" />
<line x1="405.80" y1="168.73" x2="405.80" y2="165.88" stroke="#000" stroke-width="1" />
<line x1="403.80" y1="165.88" x2="407.80" y2="165.88" stroke="#000" stroke-width="1" />
<line x1="403.80" y1="168.73" x2="407.80" y2="168.73" stroke="#000" stroke-width="1" />
<polyline points="286.20,165.88 310.20,153.76 334.10,161.60 358.00,163.03 381.90,166.87 405.80,167.30" fill="none" stroke="#000" stroke-width="1.8"/>
<rect x="283.80" y="163.47" width="4.80" height="4.80" fill="#fff" stroke="#000" stroke-width="0.9" />
<rect x="307.80" y="151.36" width="4.80" height="4.80" fill="#fff" stroke="#000" stroke-width="0.9" />
<rect x="331.70" y="159.20" width="4.80" height="4.80" fill="#fff" stroke="#000" stroke-width="0.9" />
<rect x="355.60" y="160.62" width="4.80" height="4.80" fill="#fff" stroke="#000" stroke-width="0.9" />
<rect x="379.50" y="164.47" width="4.80" height="4.80" fill="#fff" stroke="#000" stroke-width="0.9" />
<rect x="403.40" y="164.90" width="4.80" height="4.80" fill="#fff" stroke="#000" stroke-width="0.9" />
<line x1="286.20" y1="168.73" x2="286.20" y2="163.03" stroke="#000" stroke-width="1" />
<line x1="284.20" y1="163.03" x2="288.20" y2="163.03" stroke="#000" stroke-width="1" />
<line x1="284.20" y1="168.73" x2="288.20" y2="168.73" stroke="#000" stroke-width="1" />
<line x1="310.20" y1="170.44" x2="310.20" y2="163.31" stroke="#000" stroke-width="1" />
<line x1="308.20" y1="163.31" x2="312.20" y2="163.31" stroke="#000" stroke-width="1" />
<line x1="308.20" y1="170.44" x2="312.20" y2="170.44" stroke="#000" stroke-width="1" />
<line x1="334.10" y1="168.30" x2="334.10" y2="165.45" stroke="#000" stroke-width="1" />
<line x1="332.10" y1="165.45" x2="336.10" y2="165.45" stroke="#000" stroke-width="1" />
<line x1="332.10" y1="168.30" x2="336.10" y2="168.30" stroke="#000" stroke-width="1" />
<line x1="358.00" y1="165.88" x2="358.00" y2="160.18" stroke="#000" stroke-width="1" />
<line x1="356.00" y1="160.18" x2="360.00" y2="160.18" stroke="#000" stroke-width="1" />
<line x1="356.00" y1="165.88" x2="360.00" y2="165.88" stroke="#000" stroke-width="1" />
<line x1="381.90" y1="167.30" x2="381.90" y2="164.45" stroke="#000" stroke-width="1" />
<line x1="379.90" y1="164.45" x2="383.90" y2="164.45" stroke="#000" stroke-width="1" />
<line x1="379.90" y1="167.30" x2="383.90" y2="167.30" stroke="#000" stroke-width="1" />
<line x1="405.80" y1="168.30" x2="405.80" y2="165.45" stroke="#000" stroke-width="1" />
<line x1="403.80" y1="165.45" x2="407.80" y2="165.45" stroke="#000" stroke-width="1" />
<line x1="403.80" y1="168.30" x2="407.80" y2="168.30" stroke="#000" stroke-width="1" />
<polyline points="286.20,165.88 310.20,166.87 334.10,166.87 358.00,163.03 381.90,165.88 405.80,166.87" fill="none" stroke="#000" stroke-width="1.8"/>
<polygon points="286.20,162.68 289.00,168.00 283.40,168.00" fill="#fff" stroke="#000" stroke-width="0.9"/>
<polygon points="310.20,163.68 313.00,169.00 307.40,169.00" fill="#fff" stroke="#000" stroke-width="0.9"/>
<polygon points="334.10,163.68 336.90,169.00 331.30,169.00" fill="#fff" stroke="#000" stroke-width="0.9"/>
<polygon points="358.00,159.83 360.80,165.15 355.20,165.15" fill="#fff" stroke="#000" stroke-width="0.9"/>
<polygon points="381.90,162.68 384.70,168.00 379.10,168.00" fill="#fff" stroke="#000" stroke-width="0.9"/>
<polygon points="405.80,163.68 408.60,169.00 403.00,169.00" fill="#fff" stroke="#000" stroke-width="0.9"/>
<line x1="286.20" y1="140.23" x2="286.20" y2="120.28" stroke="#000" stroke-width="1" />
<line x1="284.20" y1="120.28" x2="288.20" y2="120.28" stroke="#000" stroke-width="1" />
<line x1="284.20" y1="140.23" x2="288.20" y2="140.23" stroke="#000" stroke-width="1" />
<line x1="310.20" y1="116.00" x2="310.20" y2="111.73" stroke="#000" stroke-width="1" />
<line x1="308.20" y1="111.73" x2="312.20" y2="111.73" stroke="#000" stroke-width="1" />
<line x1="308.20" y1="116.00" x2="312.20" y2="116.00" stroke="#000" stroke-width="1" />
<line x1="334.10" y1="106.74" x2="334.10" y2="99.61" stroke="#000" stroke-width="1" />
<line x1="332.10" y1="99.61" x2="336.10" y2="99.61" stroke="#000" stroke-width="1" />
<line x1="332.10" y1="106.74" x2="336.10" y2="106.74" stroke="#000" stroke-width="1" />
<line x1="358.00" y1="107.45" x2="358.00" y2="78.95" stroke="#000" stroke-width="1" />
<line x1="356.00" y1="78.95" x2="360.00" y2="78.95" stroke="#000" stroke-width="1" />
<line x1="356.00" y1="107.45" x2="360.00" y2="107.45" stroke="#000" stroke-width="1" />
<line x1="381.90" y1="98.19" x2="381.90" y2="89.64" stroke="#000" stroke-width="1" />
<line x1="379.90" y1="89.64" x2="383.90" y2="89.64" stroke="#000" stroke-width="1" />
<line x1="379.90" y1="98.19" x2="383.90" y2="98.19" stroke="#000" stroke-width="1" />
<line x1="405.80" y1="96.05" x2="405.80" y2="76.10" stroke="#000" stroke-width="1" />
<line x1="403.80" y1="76.10" x2="407.80" y2="76.10" stroke="#000" stroke-width="1" />
<line x1="403.80" y1="96.05" x2="407.80" y2="96.05" stroke="#000" stroke-width="1" />
<polyline points="286.20,130.25 310.20,113.86 334.10,103.18 358.00,93.20 381.90,93.91 405.80,86.08" fill="none" stroke="#000" stroke-width="1.8"/>
<circle cx="286.20" cy="130.25" r="2.60" fill="#000"/>
<circle cx="310.20" cy="113.86" r="2.60" fill="#000"/>
<circle cx="334.10" cy="103.18" r="2.60" fill="#000"/>
<circle cx="358.00" cy="93.20" r="2.60" fill="#000"/>
<circle cx="381.90" cy="93.91" r="2.60" fill="#000"/>
<circle cx="405.80" cy="86.08" r="2.60" fill="#000"/>
<line x1="286.20" y1="123.12" x2="286.20" y2="97.48" stroke="#000" stroke-width="1" />
<line x1="284.20" y1="97.48" x2="288.20" y2="97.48" stroke="#000" stroke-width="1" />
<line x1="284.20" y1="123.12" x2="288.20" y2="123.12" stroke="#000" stroke-width="1" />
<line x1="310.20" y1="81.80" x2="310.20" y2="73.25" stroke="#000" stroke-width="1" />
<line x1="308.20" y1="73.25" x2="312.20" y2="73.25" stroke="#000" stroke-width="1" />
<line x1="308.20" y1="81.80" x2="312.20" y2="81.80" stroke="#000" stroke-width="1" />
<line x1="334.10" y1="91.78" x2="334.10" y2="49.03" stroke="#000" stroke-width="1" />
<line x1="332.10" y1="49.03" x2="336.10" y2="49.03" stroke="#000" stroke-width="1" />
<line x1="332.10" y1="91.78" x2="336.10" y2="91.78" stroke="#000" stroke-width="1" />
<line x1="358.00" y1="65.41" x2="358.00" y2="31.21" stroke="#000" stroke-width="1" />
<line x1="356.00" y1="31.21" x2="360.00" y2="31.21" stroke="#000" stroke-width="1" />
<line x1="356.00" y1="65.41" x2="360.00" y2="65.41" stroke="#000" stroke-width="1" />
<line x1="381.90" y1="36.20" x2="381.90" y2="13.40" stroke="#000" stroke-width="1" />
<line x1="379.90" y1="13.40" x2="383.90" y2="13.40" stroke="#000" stroke-width="1" />
<line x1="379.90" y1="36.20" x2="383.90" y2="36.20" stroke="#000" stroke-width="1" />
<line x1="405.80" y1="54.73" x2="405.80" y2="24.80" stroke="#000" stroke-width="1" />
<line x1="403.80" y1="24.80" x2="407.80" y2="24.80" stroke="#000" stroke-width="1" />
<line x1="403.80" y1="54.73" x2="407.80" y2="54.73" stroke="#000" stroke-width="1" />
<polyline points="286.20,110.30 310.20,77.53 334.10,70.40 358.00,48.31 381.90,24.80 405.80,39.76" fill="none" stroke="#000" stroke-width="1.8"/>
<circle cx="286.20" cy="110.30" r="2.50" fill="#fff" stroke="#000" stroke-width="0.9"/>
<circle cx="310.20" cy="77.53" r="2.50" fill="#fff" stroke="#000" stroke-width="0.9"/>
<circle cx="334.10" cy="70.40" r="2.50" fill="#fff" stroke="#000" stroke-width="0.9"/>
<circle cx="358.00" cy="48.31" r="2.50" fill="#fff" stroke="#000" stroke-width="0.9"/>
<circle cx="381.90" cy="24.80" r="2.50" fill="#fff" stroke="#000" stroke-width="0.9"/>
<circle cx="405.80" cy="39.76" r="2.50" fill="#fff" stroke="#000" stroke-width="0.9"/>
<line x1="286.20" y1="103.89" x2="286.20" y2="92.49" stroke="#000" stroke-width="1" />
<line x1="284.20" y1="92.49" x2="288.20" y2="92.49" stroke="#000" stroke-width="1" />
<line x1="284.20" y1="103.89" x2="288.20" y2="103.89" stroke="#000" stroke-width="1" />
<line x1="310.20" y1="84.65" x2="310.20" y2="76.10" stroke="#000" stroke-width="1" />
<line x1="308.20" y1="76.10" x2="312.20" y2="76.10" stroke="#000" stroke-width="1" />
<line x1="308.20" y1="84.65" x2="312.20" y2="84.65" stroke="#000" stroke-width="1" />
<line x1="334.10" y1="63.99" x2="334.10" y2="48.31" stroke="#000" stroke-width="1" />
<line x1="332.10" y1="48.31" x2="336.10" y2="48.31" stroke="#000" stroke-width="1" />
<line x1="332.10" y1="63.99" x2="336.10" y2="63.99" stroke="#000" stroke-width="1" />
<line x1="358.00" y1="66.84" x2="358.00" y2="51.16" stroke="#000" stroke-width="1" />
<line x1="356.00" y1="51.16" x2="360.00" y2="51.16" stroke="#000" stroke-width="1" />
<line x1="356.00" y1="66.84" x2="360.00" y2="66.84" stroke="#000" stroke-width="1" />
<line x1="381.90" y1="61.85" x2="381.90" y2="56.15" stroke="#000" stroke-width="1" />
<line x1="379.90" y1="56.15" x2="383.90" y2="56.15" stroke="#000" stroke-width="1" />
<line x1="379.90" y1="61.85" x2="383.90" y2="61.85" stroke="#000" stroke-width="1" />
<line x1="405.80" y1="54.01" x2="405.80" y2="39.76" stroke="#000" stroke-width="1" />
<line x1="403.80" y1="39.76" x2="407.80" y2="39.76" stroke="#000" stroke-width="1" />
<line x1="403.80" y1="54.01" x2="407.80" y2="54.01" stroke="#000" stroke-width="1" />
<polyline points="286.20,98.19 310.20,80.38 334.10,56.15 358.00,59.00 381.90,59.00 405.80,46.89" fill="none" stroke="#000" stroke-width="1.8"/>
<rect x="283.60" y="95.59" width="5.20" height="5.20" fill="#000" stroke="none" stroke-width="1" />
<rect x="307.60" y="77.78" width="5.20" height="5.20" fill="#000" stroke="none" stroke-width="1" />
<rect x="331.50" y="53.55" width="5.20" height="5.20" fill="#000" stroke="none" stroke-width="1" />
<rect x="355.40" y="56.40" width="5.20" height="5.20" fill="#000" stroke="none" stroke-width="1" />
<rect x="379.30" y="56.40" width="5.20" height="5.20" fill="#000" stroke="none" stroke-width="1" />
<rect x="403.20" y="44.29" width="5.20" height="5.20" fill="#000" stroke="none" stroke-width="1" />
<line x1="418.50" y1="42.20" x2="433.50" y2="42.20" stroke="#000" stroke-width="1.4" />
<rect x="423.60" y="39.80" width="4.80" height="4.80" fill="#000" stroke="none" stroke-width="1" />
<text x="434.80" y="45.50" font-size="9.0" font-weight="normal" text-anchor="start" fill="#000" color="#000" textLength="43.8" lengthAdjust="spacingAndGlyphs" >Patient-LCL</text>
<line x1="418.50" y1="59.80" x2="433.50" y2="59.80" stroke="#000" stroke-width="1.4" />
<circle cx="426.00" cy="59.80" r="2.10" fill="#fff" stroke="#000" stroke-width="0.9"/>
<text x="434.80" y="63.10" font-size="9.0" font-weight="normal" text-anchor="start" fill="#000" color="#000" textLength="41.5" lengthAdjust="spacingAndGlyphs" >Patient GPI</text>
<text x="431.80" y="72.40" font-size="9.0" font-weight="normal" text-anchor="start" fill="#000" color="#000" textLength="54.4" lengthAdjust="spacingAndGlyphs" >negative B cell</text>
<line x1="418.50" y1="78.30" x2="433.50" y2="78.30" stroke="#000" stroke-width="1.4" />
<circle cx="426.00" cy="78.30" r="2.40" fill="#000"/>
<text x="434.80" y="82.40" font-size="9.0" font-weight="normal" text-anchor="start" fill="#000" color="#000" textLength="41.5" lengthAdjust="spacingAndGlyphs" >Patient GPI</text>
<text x="431.80" y="91.70" font-size="9.0" font-weight="normal" text-anchor="start" fill="#000" color="#000" textLength="52.0" lengthAdjust="spacingAndGlyphs" >positive B cell</text>
<line x1="418.50" y1="102.30" x2="433.50" y2="102.30" stroke="#000" stroke-width="1.4" />
<rect x="424.00" y="100.30" width="4.00" height="4.00" fill="#fff" stroke="#000" stroke-width="0.9" />
<text x="434.80" y="106.00" font-size="9.4" font-weight="normal" text-anchor="start" fill="#000" color="#000" textLength="41.0" lengthAdjust="spacingAndGlyphs" >Donor-LCL</text>
<line x1="418.50" y1="118.40" x2="433.50" y2="118.40" stroke="#000" stroke-width="1.4" />
<polygon points="426.00,115.66 428.40,120.22 423.60,120.22" fill="#fff" stroke="#000" stroke-width="0.9"/>
<text x="434.80" y="121.70" font-size="9.0" font-weight="normal" text-anchor="start" fill="#000" color="#000" textLength="19.5" lengthAdjust="spacingAndGlyphs" >K562</text>
<line x1="273.90" y1="335.20" x2="430.50" y2="335.20" stroke="#c9c9c9" stroke-width="1" />
<line x1="273.90" y1="318.20" x2="430.50" y2="318.20" stroke="#c9c9c9" stroke-width="1" />
<line x1="273.90" y1="301.20" x2="430.50" y2="301.20" stroke="#c9c9c9" stroke-width="1" />
<line x1="273.90" y1="284.20" x2="430.50" y2="284.20" stroke="#c9c9c9" stroke-width="1" />
<line x1="273.90" y1="267.20" x2="430.50" y2="267.20" stroke="#c9c9c9" stroke-width="1" />
<line x1="273.90" y1="250.20" x2="430.50" y2="250.20" stroke="#c9c9c9" stroke-width="1" />
<line x1="273.90" y1="233.20" x2="430.50" y2="233.20" stroke="#c9c9c9" stroke-width="1" />
<line x1="273.90" y1="233.20" x2="273.90" y2="352.20" stroke="#bbb" stroke-width="1" />
<line x1="273.90" y1="352.20" x2="430.50" y2="352.20" stroke="#bbb" stroke-width="1" />
<line x1="271.90" y1="352.20" x2="273.90" y2="352.20" stroke="#bbb" stroke-width="1" />
<text x="268.00" y="356.80" font-size="10.0" font-weight="normal" text-anchor="end" fill="#111" color="#111" >0</text>
<line x1="271.90" y1="335.20" x2="273.90" y2="335.20" stroke="#bbb" stroke-width="1" />
<text x="268.00" y="339.80" font-size="10.0" font-weight="normal" text-anchor="end" fill="#111" color="#111" >10</text>
<line x1="271.90" y1="318.20" x2="273.90" y2="318.20" stroke="#bbb" stroke-width="1" />
<text x="268.00" y="322.80" font-size="10.0" font-weight="normal" text-anchor="end" fill="#111" color="#111" >20</text>
<line x1="271.90" y1="301.20" x2="273.90" y2="301.20" stroke="#bbb" stroke-width="1" />
<text x="268.00" y="305.80" font-size="10.0" font-weight="normal" text-anchor="end" fill="#111" color="#111" >30</text>
<line x1="271.90" y1="284.20" x2="273.90" y2="284.20" stroke="#bbb" stroke-width="1" />
<text x="268.00" y="288.80" font-size="10.0" font-weight="normal" text-anchor="end" fill="#111" color="#111" >40</text>
<line x1="271.90" y1="267.20" x2="273.90" y2="267.20" stroke="#bbb" stroke-width="1" />
<text x="268.00" y="271.80" font-size="10.0" font-weight="normal" text-anchor="end" fill="#111" color="#111" >50</text>
<line x1="271.90" y1="250.20" x2="273.90" y2="250.20" stroke="#bbb" stroke-width="1" />
<text x="268.00" y="254.80" font-size="10.0" font-weight="normal" text-anchor="end" fill="#111" color="#111" >60</text>
<line x1="271.90" y1="233.20" x2="273.90" y2="233.20" stroke="#bbb" stroke-width="1" />
<text x="268.00" y="237.80" font-size="10.0" font-weight="normal" text-anchor="end" fill="#111" color="#111" >70</text>
<line x1="273.90" y1="352.20" x2="273.90" y2="354.40" stroke="#bbb" stroke-width="1" />
<line x1="300.00" y1="352.20" x2="300.00" y2="354.40" stroke="#bbb" stroke-width="1" />
<line x1="326.10" y1="352.20" x2="326.10" y2="354.40" stroke="#bbb" stroke-width="1" />
<line x1="352.20" y1="352.20" x2="352.20" y2="354.40" stroke="#bbb" stroke-width="1" />
<line x1="378.30" y1="352.20" x2="378.30" y2="354.40" stroke="#bbb" stroke-width="1" />
<line x1="404.40" y1="352.20" x2="404.40" y2="354.40" stroke="#bbb" stroke-width="1" />
<line x1="430.50" y1="352.20" x2="430.50" y2="354.40" stroke="#bbb" stroke-width="1" />
<text x="289.20" y="370.90" font-size="10.4" font-weight="normal" text-anchor="middle" fill="#111" color="#111" >1.25</text>
<text x="315.40" y="370.90" font-size="10.4" font-weight="normal" text-anchor="middle" fill="#111" color="#111" >2.5</text>
<text x="340.90" y="370.90" font-size="10.4" font-weight="normal" text-anchor="middle" fill="#111" color="#111" >5</text>
<text x="367.20" y="370.90" font-size="10.4" font-weight="normal" text-anchor="middle" fill="#111" color="#111" >10</text>
<text x="393.00" y="370.90" font-size="10.4" font-weight="normal" text-anchor="middle" fill="#111" color="#111" >20</text>
<text x="419.20" y="370.90" font-size="10.4" font-weight="normal" text-anchor="middle" fill="#111" color="#111" >40</text>
<text x="354.40" y="387.50" font-size="9.0" font-weight="bold" text-anchor="middle" fill="#000" color="#000" textLength="37" lengthAdjust="spacingAndGlyphs" >E/T ratio</text>
<g transform="translate(251.60,296.80) rotate(-90)"><text x="0" y="0" font-size="10.2" font-weight="bold" text-anchor="middle" fill="#000" textLength="69.4" lengthAdjust="spacingAndGlyphs">% Specific lysis</text></g>
<text x="285.00" y="223.20" font-size="11.2" font-weight="bold" text-anchor="start" fill="#000" color="#000" textLength="62.3" lengthAdjust="spacingAndGlyphs" >Cytotoxicity</text>
<text x="351.0" y="222.9" font-size="8.8" fill="#000" textLength="79.8" lengthAdjust="spacingAndGlyphs">(Cr<tspan font-size="5.6" dy="-3.6">51</tspan><tspan dy="3.6"> release assay)</tspan></text>
<line x1="287.60" y1="353.90" x2="287.60" y2="350.50" stroke="#000" stroke-width="1" />
<line x1="285.60" y1="350.50" x2="289.60" y2="350.50" stroke="#000" stroke-width="1" />
<line x1="285.60" y1="353.90" x2="289.60" y2="353.90" stroke="#000" stroke-width="1" />
<line x1="313.80" y1="353.90" x2="313.80" y2="350.50" stroke="#000" stroke-width="1" />
<line x1="311.80" y1="350.50" x2="315.80" y2="350.50" stroke="#000" stroke-width="1" />
<line x1="311.80" y1="353.90" x2="315.80" y2="353.90" stroke="#000" stroke-width="1" />
<line x1="339.30" y1="353.05" x2="339.30" y2="349.65" stroke="#000" stroke-width="1" />
<line x1="337.30" y1="349.65" x2="341.30" y2="349.65" stroke="#000" stroke-width="1" />
<line x1="337.30" y1="353.05" x2="341.30" y2="353.05" stroke="#000" stroke-width="1" />
<line x1="365.60" y1="342.85" x2="365.60" y2="329.25" stroke="#000" stroke-width="1" />
<line x1="363.60" y1="329.25" x2="367.60" y2="329.25" stroke="#000" stroke-width="1" />
<line x1="363.60" y1="342.85" x2="367.60" y2="342.85" stroke="#000" stroke-width="1" />
<line x1="391.40" y1="340.81" x2="391.40" y2="334.01" stroke="#000" stroke-width="1" />
<line x1="389.40" y1="334.01" x2="393.40" y2="334.01" stroke="#000" stroke-width="1" />
<line x1="389.40" y1="340.81" x2="393.40" y2="340.81" stroke="#000" stroke-width="1" />
<line x1="417.60" y1="346.76" x2="417.60" y2="332.14" stroke="#000" stroke-width="1" />
<line x1="415.60" y1="332.14" x2="419.60" y2="332.14" stroke="#000" stroke-width="1" />
<line x1="415.60" y1="346.76" x2="419.60" y2="346.76" stroke="#000" stroke-width="1" />
<polyline points="287.60,352.20 313.80,352.20 339.30,351.35 365.60,336.05 391.40,337.41 417.60,339.45" fill="none" stroke="#000" stroke-width="1.8"/>
<rect x="285.00" y="349.60" width="5.20" height="5.20" fill="#fff" stroke="#000" stroke-width="0.9" />
<rect x="311.20" y="349.60" width="5.20" height="5.20" fill="#fff" stroke="#000" stroke-width="0.9" />
<rect x="336.70" y="348.75" width="5.20" height="5.20" fill="#fff" stroke="#000" stroke-width="0.9" />
<rect x="363.00" y="333.45" width="5.20" height="5.20" fill="#fff" stroke="#000" stroke-width="0.9" />
<rect x="388.80" y="334.81" width="5.20" height="5.20" fill="#fff" stroke="#000" stroke-width="0.9" />
<rect x="415.00" y="336.85" width="5.20" height="5.20" fill="#fff" stroke="#000" stroke-width="0.9" />
<line x1="287.60" y1="349.14" x2="287.60" y2="345.74" stroke="#000" stroke-width="1" />
<line x1="285.60" y1="345.74" x2="289.60" y2="345.74" stroke="#000" stroke-width="1" />
<line x1="285.60" y1="349.14" x2="289.60" y2="349.14" stroke="#000" stroke-width="1" />
<line x1="313.80" y1="356.79" x2="313.80" y2="346.59" stroke="#000" stroke-width="1" />
<line x1="311.80" y1="346.59" x2="315.80" y2="346.59" stroke="#000" stroke-width="1" />
<line x1="311.80" y1="356.79" x2="315.80" y2="356.79" stroke="#000" stroke-width="1" />
<line x1="339.30" y1="353.05" x2="339.30" y2="349.65" stroke="#000" stroke-width="1" />
<line x1="337.30" y1="349.65" x2="341.30" y2="349.65" stroke="#000" stroke-width="1" />
<line x1="337.30" y1="353.05" x2="341.30" y2="353.05" stroke="#000" stroke-width="1" />
<line x1="365.60" y1="353.90" x2="365.60" y2="350.50" stroke="#000" stroke-width="1" />
<line x1="363.60" y1="350.50" x2="367.60" y2="350.50" stroke="#000" stroke-width="1" />
<line x1="363.60" y1="353.90" x2="367.60" y2="353.90" stroke="#000" stroke-width="1" />
<line x1="391.40" y1="338.60" x2="391.40" y2="335.20" stroke="#000" stroke-width="1" />
<line x1="389.40" y1="335.20" x2="393.40" y2="335.20" stroke="#000" stroke-width="1" />
<line x1="389.40" y1="338.60" x2="393.40" y2="338.60" stroke="#000" stroke-width="1" />
<line x1="417.60" y1="338.26" x2="417.60" y2="331.46" stroke="#000" stroke-width="1" />
<line x1="415.60" y1="331.46" x2="419.60" y2="331.46" stroke="#000" stroke-width="1" />
<line x1="415.60" y1="338.26" x2="419.60" y2="338.26" stroke="#000" stroke-width="1" />
<polyline points="287.60,347.44 313.80,351.69 339.30,351.35 365.60,352.20 391.40,336.90 417.60,334.86" fill="none" stroke="#000" stroke-width="1.8"/>
<polygon points="287.60,344.02 290.60,349.72 284.60,349.72" fill="#fff" stroke="#000" stroke-width="0.9"/>
<polygon points="313.80,348.27 316.80,353.97 310.80,353.97" fill="#fff" stroke="#000" stroke-width="0.9"/>
<polygon points="339.30,347.93 342.30,353.63 336.30,353.63" fill="#fff" stroke="#000" stroke-width="0.9"/>
<polygon points="365.60,348.78 368.60,354.48 362.60,354.48" fill="#fff" stroke="#000" stroke-width="0.9"/>
<polygon points="391.40,333.48 394.40,339.18 388.40,339.18" fill="#fff" stroke="#000" stroke-width="0.9"/>
<polygon points="417.60,331.44 420.60,337.14 414.60,337.14" fill="#fff" stroke="#000" stroke-width="0.9"/>
<line x1="287.60" y1="338.60" x2="287.60" y2="331.80" stroke="#000" stroke-width="1" />
<line x1="285.60" y1="331.80" x2="289.60" y2="331.80" stroke="#000" stroke-width="1" />
<line x1="285.60" y1="338.60" x2="289.60" y2="338.60" stroke="#000" stroke-width="1" />
<line x1="313.80" y1="334.35" x2="313.80" y2="317.35" stroke="#000" stroke-width="1" />
<line x1="311.80" y1="317.35" x2="315.80" y2="317.35" stroke="#000" stroke-width="1" />
<line x1="311.80" y1="334.35" x2="315.80" y2="334.35" stroke="#000" stroke-width="1" />
<line x1="339.30" y1="284.71" x2="339.30" y2="277.91" stroke="#000" stroke-width="1" />
<line x1="337.30" y1="277.91" x2="341.30" y2="277.91" stroke="#000" stroke-width="1" />
<line x1="337.30" y1="284.71" x2="341.30" y2="284.71" stroke="#000" stroke-width="1" />
<line x1="365.60" y1="259.21" x2="365.60" y2="247.31" stroke="#000" stroke-width="1" />
<line x1="363.60" y1="247.31" x2="367.60" y2="247.31" stroke="#000" stroke-width="1" />
<line x1="363.60" y1="259.21" x2="367.60" y2="259.21" stroke="#000" stroke-width="1" />
<line x1="391.40" y1="256.66" x2="391.40" y2="246.46" stroke="#000" stroke-width="1" />
<line x1="389.40" y1="246.46" x2="393.40" y2="246.46" stroke="#000" stroke-width="1" />
<line x1="389.40" y1="256.66" x2="393.40" y2="256.66" stroke="#000" stroke-width="1" />
<line x1="417.60" y1="264.82" x2="417.60" y2="229.46" stroke="#000" stroke-width="1" />
<line x1="415.60" y1="229.46" x2="419.60" y2="229.46" stroke="#000" stroke-width="1" />
<line x1="415.60" y1="264.82" x2="419.60" y2="264.82" stroke="#000" stroke-width="1" />
<polyline points="287.60,335.20 313.80,325.85 339.30,281.31 365.60,253.26 391.40,251.56 417.60,247.14" fill="none" stroke="#000" stroke-width="1.8"/>
<circle cx="287.60" cy="335.20" r="2.70" fill="#fff" stroke="#000" stroke-width="0.9"/>
<circle cx="313.80" cy="325.85" r="2.70" fill="#fff" stroke="#000" stroke-width="0.9"/>
<circle cx="339.30" cy="281.31" r="2.70" fill="#fff" stroke="#000" stroke-width="0.9"/>
<circle cx="365.60" cy="253.26" r="2.70" fill="#fff" stroke="#000" stroke-width="0.9"/>
<circle cx="391.40" cy="251.56" r="2.70" fill="#fff" stroke="#000" stroke-width="0.9"/>
<circle cx="417.60" cy="247.14" r="2.70" fill="#fff" stroke="#000" stroke-width="0.9"/>
<line x1="287.60" y1="334.18" x2="287.60" y2="327.38" stroke="#000" stroke-width="1" />
<line x1="285.60" y1="327.38" x2="289.60" y2="327.38" stroke="#000" stroke-width="1" />
<line x1="285.60" y1="334.18" x2="289.60" y2="334.18" stroke="#000" stroke-width="1" />
<line x1="313.80" y1="303.75" x2="313.80" y2="286.07" stroke="#000" stroke-width="1" />
<line x1="311.80" y1="286.07" x2="315.80" y2="286.07" stroke="#000" stroke-width="1" />
<line x1="311.80" y1="303.75" x2="315.80" y2="303.75" stroke="#000" stroke-width="1" />
<line x1="339.30" y1="285.39" x2="339.30" y2="268.39" stroke="#000" stroke-width="1" />
<line x1="337.30" y1="268.39" x2="341.30" y2="268.39" stroke="#000" stroke-width="1" />
<line x1="337.30" y1="285.39" x2="341.30" y2="285.39" stroke="#000" stroke-width="1" />
<line x1="365.60" y1="278.59" x2="365.60" y2="261.59" stroke="#000" stroke-width="1" />
<line x1="363.60" y1="261.59" x2="367.60" y2="261.59" stroke="#000" stroke-width="1" />
<line x1="363.60" y1="278.59" x2="367.60" y2="278.59" stroke="#000" stroke-width="1" />
<line x1="391.40" y1="249.52" x2="391.40" y2="242.72" stroke="#000" stroke-width="1" />
<line x1="389.40" y1="242.72" x2="393.40" y2="242.72" stroke="#000" stroke-width="1" />
<line x1="389.40" y1="249.52" x2="393.40" y2="249.52" stroke="#000" stroke-width="1" />
<line x1="417.60" y1="266.18" x2="417.60" y2="232.18" stroke="#000" stroke-width="1" />
<line x1="415.60" y1="232.18" x2="419.60" y2="232.18" stroke="#000" stroke-width="1" />
<line x1="415.60" y1="266.18" x2="419.60" y2="266.18" stroke="#000" stroke-width="1" />
<polyline points="287.60,330.78 313.80,294.91 339.30,276.89 365.60,270.09 391.40,246.12 417.60,249.18" fill="none" stroke="#000" stroke-width="1.8"/>
<circle cx="287.60" cy="330.78" r="2.90" fill="#000"/>
<circle cx="313.80" cy="294.91" r="2.90" fill="#000"/>
<circle cx="339.30" cy="276.89" r="2.90" fill="#000"/>
<circle cx="365.60" cy="270.09" r="2.90" fill="#000"/>
<circle cx="391.40" cy="246.12" r="2.90" fill="#000"/>
<circle cx="417.60" cy="249.18" r="2.90" fill="#000"/>
<line x1="439.60" y1="244.90" x2="455.70" y2="244.90" stroke="#000" stroke-width="1.6" />
<circle cx="447.00" cy="244.90" r="2.40" fill="#fff" stroke="#000" stroke-width="0.9"/>
<text x="458.20" y="248.20" font-size="10.2" font-weight="normal" text-anchor="start" fill="#000" color="#000" textLength="47.2" lengthAdjust="spacingAndGlyphs" >Patient GPI</text>
<text x="458.20" y="260.40" font-size="10.2" font-weight="normal" text-anchor="start" fill="#000" color="#000" textLength="61.4" lengthAdjust="spacingAndGlyphs" >negative B cell</text>
<line x1="439.60" y1="272.90" x2="455.70" y2="272.90" stroke="#000" stroke-width="1.6" />
<circle cx="447.00" cy="272.90" r="3.00" fill="#000"/>
<text x="458.20" y="275.60" font-size="10.2" font-weight="normal" text-anchor="start" fill="#000" color="#000" textLength="47.2" lengthAdjust="spacingAndGlyphs" >Patient GPI</text>
<text x="458.20" y="287.90" font-size="10.2" font-weight="normal" text-anchor="start" fill="#000" color="#000" textLength="57.8" lengthAdjust="spacingAndGlyphs" >positive B cell</text>
<line x1="439.60" y1="300.40" x2="455.70" y2="300.40" stroke="#000" stroke-width="1.6" />
<rect x="444.70" y="298.10" width="4.60" height="4.60" fill="#fff" stroke="#000" stroke-width="0.9" />
<text x="458.20" y="303.60" font-size="10.2" font-weight="normal" text-anchor="start" fill="#000" color="#000" textLength="51.6" lengthAdjust="spacingAndGlyphs" >Donor B cell</text>
<line x1="439.60" y1="321.00" x2="455.70" y2="321.00" stroke="#000" stroke-width="1.6" />
<polygon points="447.80,317.81 450.60,323.13 445.00,323.13" fill="#fff" stroke="#000" stroke-width="0.9"/>
<text x="458.20" y="322.70" font-size="10.2" font-weight="normal" text-anchor="start" fill="#000" color="#000" textLength="22.2" lengthAdjust="spacingAndGlyphs" >K562</text>
</svg>
</body></html>
